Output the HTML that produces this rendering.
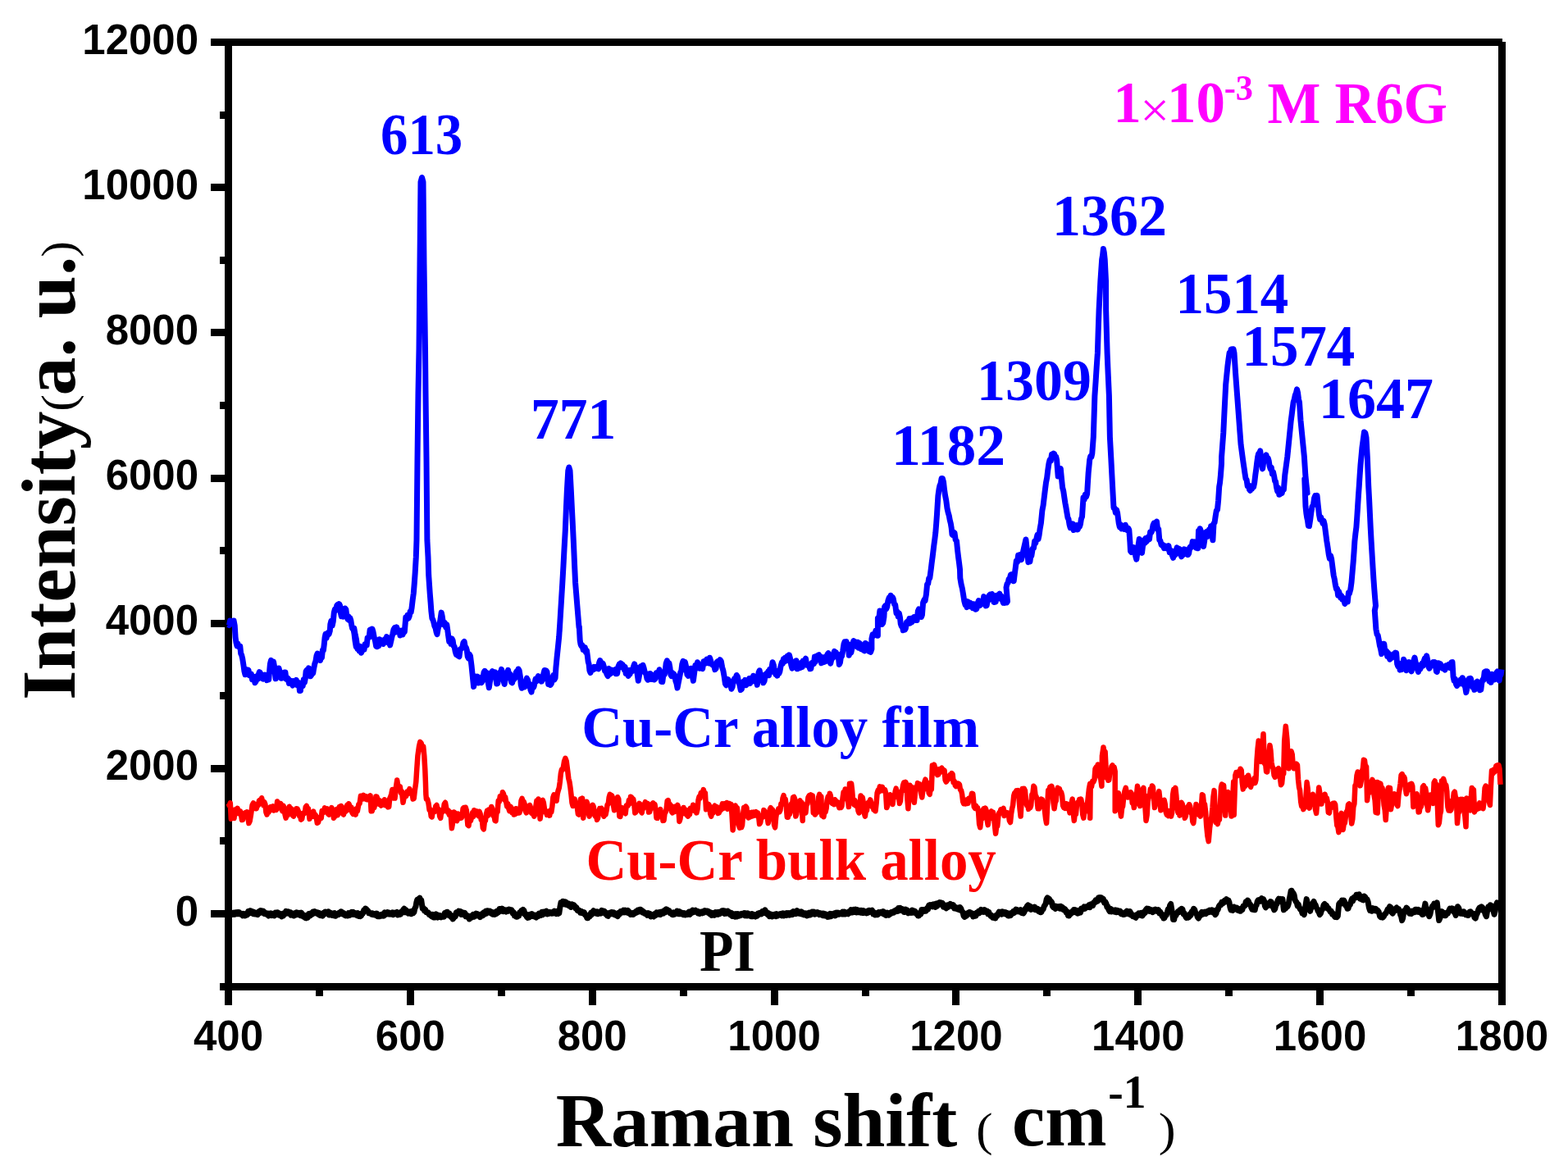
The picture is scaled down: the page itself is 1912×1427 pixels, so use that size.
<!DOCTYPE html>
<html><head><meta charset="utf-8"><style>
html,body{margin:0;padding:0;background:#fff;width:1912px;height:1427px;overflow:hidden}
svg{display:block}
text{font-kerning:normal;font-variant-ligatures:none}
.tk{font-family:"Liberation Sans",Arial,sans-serif;font-weight:bold;font-size:51px;fill:#000}
.sf{font-family:"Liberation Serif","Times New Roman",serif}
.ss{font-family:"Liberation Sans",Arial,sans-serif}
.b{font-weight:bold}
.n{font-weight:normal}
</style></head><body>
<svg width="1912" height="1427" viewBox="0 0 1912 1427"><rect x="0" y="0" width="1912" height="1427" fill="#fff"/><rect x="257" y="47" width="1575" height="9" fill="#000"/><rect x="274" y="47" width="9" height="1179" fill="#000"/><rect x="1827" y="51" width="9" height="1175" fill="#000"/><rect x="268" y="1199" width="1568" height="9" fill="#000"/><rect x="257" y="1110" width="17" height="9"/><rect x="268" y="1021" width="6" height="9"/><rect x="257" y="933" width="17" height="9"/><rect x="268" y="844" width="6" height="9"/><rect x="257" y="756" width="17" height="9"/><rect x="268" y="667" width="6" height="9"/><rect x="257" y="579" width="17" height="9"/><rect x="268" y="490" width="6" height="9"/><rect x="257" y="401" width="17" height="9"/><rect x="268" y="313" width="6" height="9"/><rect x="257" y="224" width="17" height="9"/><rect x="268" y="136" width="6" height="9"/><rect x="257" y="47" width="17" height="9"/><rect x="274" y="1208" width="9" height="18"/><rect x="385" y="1208" width="9" height="7"/><rect x="496" y="1208" width="9" height="18"/><rect x="607" y="1208" width="9" height="7"/><rect x="718" y="1208" width="9" height="18"/><rect x="829" y="1208" width="9" height="7"/><rect x="940" y="1208" width="9" height="18"/><rect x="1051" y="1208" width="9" height="7"/><rect x="1161" y="1208" width="9" height="18"/><rect x="1272" y="1208" width="9" height="7"/><rect x="1383" y="1208" width="9" height="18"/><rect x="1494" y="1208" width="9" height="7"/><rect x="1605" y="1208" width="9" height="18"/><rect x="1716" y="1208" width="9" height="7"/><rect x="1827" y="1208" width="9" height="18"/><polyline points="278.4,761.7 279.5,762.6 280.6,757.1 281.7,758.9 282.8,760.3 284.0,757.2 285.1,757.1 286.2,762.8 287.1,777.4 287.9,783.5 288.9,787.7 289.9,784.7 290.8,788.6 291.8,788.6 292.8,788.4 293.7,797.2 294.6,798.7 295.7,803.4 296.9,811.0 298.0,818.9 299.0,822.8 299.9,816.3 300.9,822.4 301.9,818.9 303.0,817.3 304.2,823.7 305.3,821.7 306.4,822.1 307.5,828.7 308.6,827.8 309.8,825.3 310.9,832.7 312.0,831.2 313.1,824.9 314.2,828.3 315.4,822.2 316.2,819.7 317.0,820.0 318.0,825.9 318.9,822.3 319.8,827.8 321.0,828.2 322.1,824.5 323.2,823.2 324.3,824.5 325.5,829.6 326.6,824.9 327.7,828.9 328.5,819.7 329.4,809.9 330.5,805.4 331.6,808.2 332.6,812.7 333.5,807.0 334.4,812.1 335.3,821.0 336.1,827.8 336.9,819.4 337.8,817.7 338.9,820.7 340.0,815.0 341.2,819.4 342.3,827.0 343.4,827.3 344.5,824.0 345.6,825.2 346.8,820.0 347.9,820.0 349.0,828.4 350.1,828.9 351.2,827.3 352.4,833.4 353.5,831.2 354.6,830.5 355.7,834.0 356.9,836.0 358.0,830.6 359.1,834.5 360.2,831.7 361.3,829.5 362.5,835.7 363.6,833.4 364.5,832.7 365.4,842.5 366.4,842.4 367.2,834.1 368.1,833.4 369.2,836.7 370.3,828.7 371.4,832.3 372.3,827.6 373.1,818.9 374.2,817.2 375.4,822.5 376.5,814.9 377.6,818.9 378.7,824.8 379.8,823.3 380.8,817.9 381.7,821.3 382.6,815.5 383.8,809.5 384.9,806.5 386.0,799.8 387.1,797.0 388.2,799.8 389.4,804.6 390.5,805.4 391.5,801.3 392.4,802.0 393.4,793.1 394.4,793.1 395.3,785.8 396.1,777.4 397.0,773.2 398.0,778.2 398.9,775.1 400.0,771.6 401.1,773.4 402.3,769.5 402.8,761.7 403.9,757.2 405.1,763.1 406.2,758.3 407.3,747.1 408.4,743.0 409.5,744.4 410.7,738.7 411.7,737.4 412.6,741.9 413.6,736.6 414.6,738.7 415.4,747.7 416.3,751.6 417.4,747.9 418.5,752.1 419.6,749.7 420.8,742.0 421.9,743.6 423.0,752.7 424.0,755.0 425.0,751.8 425.9,756.4 426.9,753.8 427.8,756.5 428.6,761.7 429.7,766.9 430.9,767.1 432.0,772.9 433.1,782.0 434.2,788.6 433.0,777.4 431.8,766.3 433.1,773.8 434.4,779.5 435.9,791.3 437.1,787.9 438.2,793.9 439.4,788.3 440.6,796.2 441.8,792.7 442.9,789.0 444.0,792.3 445.1,785.7 446.2,786.9 447.2,786.9 448.1,778.1 449.1,778.0 450.1,777.3 451.1,768.3 452.1,767.7 453.1,772.5 454.0,767.1 455.0,770.7 456.2,777.1 457.5,781.7 458.7,788.3 459.7,788.7 460.8,783.3 461.8,787.9 462.8,779.8 463.8,781.0 465.0,784.4 466.1,781.2 467.2,785.5 468.3,783.9 469.4,779.6 470.5,782.2 471.6,776.6 472.7,778.0 473.7,783.9 474.6,782.5 475.6,786.9 476.7,782.3 477.8,777.1 478.9,772.8 480.0,767.7 481.2,765.7 482.4,771.2 483.6,764.9 484.7,769.6 485.9,768.5 486.9,768.8 487.9,775.0 488.9,773.6 490.0,769.0 491.1,774.0 492.2,768.9 493.3,770.7 494.8,753.0 495.9,755.5 497.0,750.2 498.1,754.1 499.2,751.5 500.1,746.1 501.1,746.8 502.1,741.2 503.2,731.7 504.3,723.6 505.3,711.1 506.2,698.6 507.3,679.4 508.0,658.8 509.0,560.0 510.0,479.0 511.0,426.0 512.0,322.0 513.0,222.0 514.5,216.5 516.0,222.0 517.0,322.0 518.5,426.0 519.0,479.0 520.0,560.0 520.9,658.8 522.0,679.4 522.7,701.5 524.2,723.6 525.1,734.6 525.9,745.7 526.9,754.1 527.9,756.0 528.9,759.2 529.9,763.7 531.0,765.8 532.0,770.6 533.0,773.6 534.3,766.2 535.7,761.8 536.9,756.3 538.2,747.1 539.1,751.0 540.1,757.8 541.1,761.8 542.3,759.4 543.6,765.0 544.8,761.8 545.8,768.7 546.7,775.6 547.7,782.4 548.8,779.9 549.9,785.2 551.0,778.9 552.1,781.0 553.1,787.8 554.1,788.7 555.1,794.2 556.3,798.3 557.5,795.1 558.8,800.1 560.0,800.8 561.2,791.8 562.4,791.3 563.7,790.2 564.9,783.9 566.1,782.4 567.2,788.8 568.3,789.8 569.3,793.0 570.3,801.0 571.3,803.0 572.4,798.0 573.5,800.1 575.0,811.9 576.3,824.8 577.6,837.6 578.9,829.9 580.1,825.1 581.2,830.1 582.3,825.1 583.4,833.0 584.5,831.0 585.7,828.8 587.0,832.6 588.2,831.0 586.7,831.1 587.8,825.7 588.9,827.0 590.0,820.3 591.1,818.3 592.3,822.4 593.4,820.3 594.3,826.0 595.3,832.9 596.3,838.7 597.3,832.2 598.2,827.0 599.2,820.3 600.3,818.6 601.5,821.5 602.6,820.3 603.6,819.8 604.7,826.9 605.7,834.0 606.8,833.6 608.0,824.3 609.3,820.3 610.4,822.7 611.5,816.4 612.6,820.3 613.9,829.6 615.1,834.5 616.2,828.7 617.4,826.9 618.5,820.3 619.6,817.3 620.7,824.4 621.8,821.9 622.7,824.3 623.5,832.0 624.6,832.9 625.7,827.6 626.8,828.6 628.0,827.1 629.1,820.5 630.2,818.6 631.2,821.1 632.1,816.0 633.1,817.7 634.4,825.3 635.2,835.3 636.3,839.3 637.4,835.1 638.6,837.0 639.8,837.8 641.1,831.1 642.3,827.2 643.6,829.5 644.7,836.5 645.8,834.2 646.9,841.2 648.0,844.1 649.2,836.7 650.3,838.7 651.1,837.4 651.9,833.6 653.1,828.1 654.2,830.9 655.3,826.9 656.4,824.6 657.5,829.4 658.6,826.1 659.5,825.9 660.3,831.1 661.6,828.9 662.8,821.9 663.9,817.5 664.9,823.6 666.0,817.9 667.0,819.4 667.8,827.9 668.7,834.5 669.9,831.3 671.2,835.3 672.4,833.7 673.7,826.9 674.8,823.6 675.9,829.1 677.1,826.9 677.9,814.4 679.1,801.8 680.4,789.3 681.7,776.7 682.5,764.2 682.2,770.0 683.4,750.3 684.6,730.7 685.8,711.0 687.0,689.7 688.1,668.3 689.3,647.0 690.3,622.5 691.4,598.0 692.8,574.0 693.8,570.0 695.0,574.0 696.3,598.0 697.5,622.5 698.7,647.0 699.7,668.3 700.6,689.7 701.6,711.0 702.7,724.5 703.8,738.0 704.9,751.5 706.0,765.0 706.3,764.2 707.2,780.9 708.0,785.6 708.8,787.6 710.0,787.0 711.1,792.4 712.2,791.8 713.3,789.7 714.4,795.3 715.5,793.5 716.4,800.2 717.2,806.9 718.1,810.0 718.9,817.7 720.0,820.6 721.1,815.4 722.2,816.1 723.3,816.8 724.3,813.3 725.4,815.7 726.4,813.6 727.7,813.0 728.9,815.2 729.8,815.8 730.6,808.5 731.7,805.5 732.8,811.1 734.0,810.2 735.2,809.3 736.5,813.6 737.6,818.4 738.7,817.1 739.8,821.9 741.1,824.5 742.3,822.8 741.3,817.7 742.5,815.5 743.8,822.2 745.0,820.2 746.3,817.2 747.5,820.3 748.8,817.7 750.0,816.8 751.3,821.8 752.6,821.5 753.8,813.4 755.1,810.2 756.1,813.9 757.1,808.9 758.1,813.1 759.1,810.5 760.1,812.7 761.1,816.7 762.1,813.3 763.1,821.3 764.1,817.4 765.1,821.5 766.1,824.4 767.1,817.5 768.1,822.4 769.1,817.2 770.1,819.0 771.4,818.4 772.6,812.7 773.7,809.9 774.7,815.9 775.8,813.9 777.0,820.9 778.3,830.3 779.3,825.0 780.4,818.1 781.4,812.7 782.7,816.2 783.9,811.2 785.2,815.2 786.4,820.4 787.7,821.8 789.0,827.7 790.0,829.1 791.0,822.1 792.0,828.6 793.0,821.5 794.0,822.7 795.2,828.5 796.5,823.5 797.7,829.0 799.0,828.0 800.3,820.6 801.5,820.2 802.8,821.8 804.0,816.7 805.3,820.2 806.5,831.5 807.8,831.6 809.0,822.0 810.3,822.7 811.2,817.9 812.2,808.9 813.4,805.8 814.7,812.2 815.9,808.9 816.9,814.1 817.8,822.7 818.8,824.5 819.8,820.4 820.8,824.7 821.8,822.1 822.8,824.0 823.9,830.7 824.9,833.4 826.0,839.0 827.2,832.9 828.5,826.3 829.7,820.2 830.8,817.9 831.8,810.0 832.9,806.4 834.1,808.3 835.4,807.7 836.7,813.4 837.9,822.7 839.2,824.3 840.4,822.7 841.7,815.4 842.9,815.2 844.2,824.2 845.4,830.3 846.7,820.4 847.9,811.4 849.2,814.9 850.5,807.8 851.7,810.2 853.0,815.3 854.2,812.2 855.5,815.2 856.7,815.6 858.0,806.7 859.2,806.4 860.5,809.2 861.8,804.1 863.0,805.1 864.3,808.9 865.5,802.2 866.8,806.4 868.0,810.3 869.3,811.4 870.5,810.6 871.8,816.7 873.1,815.2 874.3,807.3 875.6,806.4 876.8,808.3 878.1,804.7 879.3,806.4 880.6,813.7 881.8,817.7 883.1,824.8 884.4,834.0 885.6,835.7 886.9,828.4 888.1,829.0 889.4,834.7 890.6,834.5 891.9,840.3 893.1,837.7 894.4,830.2 895.6,827.7 896.9,828.3 898.2,823.5 899.4,825.2 900.7,832.1 901.9,835.2 903.2,841.5 904.4,840.4 905.7,832.8 906.7,831.1 907.7,835.9 908.7,829.4 909.7,835.8 910.7,832.8 911.7,829.4 912.7,833.8 913.7,827.5 914.7,833.5 915.7,829.0 916.7,826.9 917.7,829.5 918.7,824.2 919.7,830.8 920.8,826.5 922.0,828.2 923.3,835.3 924.2,828.9 925.1,820.2 926.2,817.8 927.2,823.6 928.3,822.7 929.5,825.8 930.8,832.8 932.1,830.5 933.3,822.8 934.6,821.5 935.6,823.3 936.6,819.1 937.6,823.8 938.6,816.6 939.6,820.2 940.8,815.4 942.1,807.7 943.3,811.1 944.6,818.9 945.9,822.7 946.9,818.4 947.9,824.1 948.9,818.5 949.9,821.5 950.9,819.0 952.1,812.2 953.4,807.7 954.4,809.4 955.4,803.9 956.4,807.1 957.4,802.4 958.4,803.9 959.4,805.7 960.4,800.0 961.4,804.7 962.4,798.9 963.4,802.6 964.7,810.8 965.9,815.2 967.2,809.4 968.5,811.8 969.7,806.4 971.0,805.8 972.2,815.8 973.5,815.2 974.7,810.8 976.0,814.4 977.2,810.2 976.3,813.0 977.3,808.2 978.3,813.6 979.3,806.1 980.3,810.2 981.3,805.4 982.5,803.2 983.8,811.3 985.0,810.5 986.3,810.3 987.6,815.7 988.8,815.5 990.1,808.5 991.3,807.9 992.4,809.6 993.4,801.1 994.5,807.1 995.5,800.2 996.5,802.4 997.6,799.2 998.6,798.7 999.6,803.9 1000.6,800.5 1001.6,808.8 1002.6,806.7 1003.6,802.5 1004.6,807.6 1005.6,801.6 1006.6,806.8 1007.6,804.2 1008.9,798.0 1010.1,796.7 1011.4,805.3 1012.7,809.2 1013.9,804.2 1015.2,802.9 1016.4,797.9 1017.4,794.4 1018.4,799.9 1019.4,795.7 1020.4,800.7 1021.4,797.9 1022.4,801.9 1023.3,810.5 1024.4,808.3 1025.4,801.6 1026.5,800.4 1027.7,794.1 1029.0,785.4 1030.0,782.8 1031.0,787.1 1032.0,782.5 1033.0,789.2 1034.0,785.4 1035.3,799.2 1036.5,793.9 1037.8,796.0 1039.0,790.4 1040.0,784.4 1040.9,781.6 1041.9,785.7 1043.0,782.7 1044.0,787.9 1045.0,788.9 1046.0,783.2 1047.1,790.1 1048.1,784.4 1049.1,785.4 1050.3,791.7 1051.6,788.1 1052.8,792.9 1054.1,793.7 1055.3,784.5 1056.6,785.4 1057.8,791.8 1059.1,794.1 1060.4,790.2 1061.6,795.5 1062.9,791.6 1062.9,779.1 1064.1,773.7 1065.4,775.3 1066.6,774.1 1067.9,769.0 1069.1,768.9 1070.4,775.3 1070.4,754.0 1071.7,754.9 1072.9,745.0 1074.2,745.2 1075.4,761.5 1076.7,759.8 1077.9,752.7 1078.6,740.2 1079.6,738.7 1080.6,742.8 1081.7,740.2 1082.9,732.6 1084.2,728.9 1085.2,732.3 1086.2,726.3 1087.2,732.4 1088.2,728.2 1089.2,730.1 1090.5,736.9 1091.7,737.7 1093.0,747.7 1094.1,746.0 1095.2,751.9 1096.3,747.8 1097.4,752.7 1098.3,761.0 1099.3,764.0 1100.3,763.0 1101.3,768.8 1102.3,763.9 1103.3,768.2 1104.3,766.5 1105.5,758.9 1106.8,757.7 1107.8,760.4 1108.9,754.6 1109.9,760.1 1111.0,754.4 1112.0,758.8 1113.1,756.5 1114.3,752.7 1115.6,752.3 1116.8,756.6 1118.1,756.5 1119.4,745.2 1120.4,743.0 1121.4,750.5 1122.4,745.5 1123.4,752.5 1124.4,750.2 1125.6,735.1 1126.9,731.7 1128.1,732.6 1129.4,725.1 1130.6,712.6 1131.7,712.0 1132.7,705.3 1133.8,705.0 1135.2,694.5 1136.1,687.0 1137.1,679.5 1138.0,672.0 1138.9,664.6 1139.9,657.1 1140.8,649.7 1141.7,638.5 1142.5,627.3 1143.9,604.8 1145.0,596.8 1146.0,592.0 1147.0,589.9 1148.1,583.5 1149.3,583.4 1150.5,588.0 1151.5,597.1 1152.5,604.0 1153.8,610.7 1155.0,620.0 1156.1,625.0 1157.2,628.7 1158.2,634.1 1159.3,638.5 1160.2,644.0 1161.0,652.0 1162.0,652.8 1163.0,649.2 1164.0,650.0 1165.2,658.4 1166.5,660.0 1167.7,672.0 1168.6,679.5 1169.6,687.0 1170.5,694.5 1170.8,705.0 1172.1,712.6 1173.3,717.5 1174.6,725.1 1175.8,733.1 1177.1,737.7 1178.1,734.1 1179.1,740.6 1180.1,733.6 1181.1,739.5 1182.1,736.4 1183.2,735.4 1184.2,740.0 1185.3,736.5 1186.3,741.6 1187.3,736.7 1188.4,740.2 1189.6,743.2 1190.9,742.7 1192.2,735.8 1193.4,732.6 1194.7,738.5 1195.9,737.7 1197.2,733.0 1198.4,734.4 1199.7,727.6 1200.9,730.0 1202.2,738.9 1203.2,738.5 1204.2,732.0 1205.2,732.3 1206.2,726.1 1207.2,725.1 1208.5,729.8 1209.7,724.5 1211.0,730.1 1212.0,734.5 1213.1,730.6 1214.1,733.9 1213.1,732.0 1214.2,734.0 1215.4,726.3 1216.6,730.2 1217.7,725.8 1218.9,724.1 1220.0,730.1 1221.2,727.1 1222.3,732.0 1223.4,735.3 1224.4,729.9 1225.4,735.4 1226.4,730.5 1227.5,735.0 1228.5,733.5 1227.0,716.5 1228.0,712.2 1229.1,711.0 1230.2,706.1 1231.3,705.6 1232.4,701.1 1233.3,700.6 1234.3,707.8 1235.2,703.0 1236.2,708.8 1237.2,700.6 1238.3,692.4 1239.3,684.2 1240.4,685.7 1241.6,677.4 1242.8,679.7 1243.9,676.5 1245.5,682.6 1246.5,677.7 1247.6,672.8 1248.7,667.8 1249.8,662.9 1250.9,658.0 1251.9,667.2 1252.9,676.5 1253.9,685.7 1254.9,680.1 1255.9,685.0 1256.8,678.4 1257.8,678.0 1259.3,668.8 1260.5,668.4 1261.6,660.4 1262.8,662.4 1264.0,656.4 1265.0,652.2 1266.0,657.6 1267.0,653.3 1268.2,644.6 1269.4,637.9 1270.9,622.5 1272.1,616.4 1273.2,607.1 1274.4,597.3 1275.5,588.6 1276.7,582.5 1277.8,573.2 1279.0,565.1 1280.1,560.8 1281.3,562.2 1282.5,554.4 1283.6,556.6 1284.8,553.1 1285.7,553.7 1286.7,558.4 1287.7,557.1 1288.6,560.8 1290.2,580.9 1291.2,579.4 1292.2,572.1 1293.3,571.6 1294.4,583.2 1295.6,594.8 1296.7,598.8 1297.9,607.1 1298.9,613.6 1299.9,619.0 1301.0,625.6 1302.0,631.5 1303.0,633.3 1304.0,639.5 1305.1,643.6 1306.1,638.7 1307.1,643.5 1308.2,638.8 1309.2,646.5 1310.2,644.1 1311.2,641.6 1312.3,645.8 1313.3,640.6 1314.3,645.9 1315.3,641.0 1316.4,642.5 1317.4,639.4 1318.4,633.0 1319.5,630.2 1321.0,607.1 1322.2,609.3 1323.3,603.2 1324.5,606.1 1325.6,602.5 1327.2,576.3 1328.7,560.8 1329.7,556.5 1330.8,557.5 1331.8,553.1 1333.3,533.1 1334.9,482.7 1336.1,465.2 1337.2,447.7 1338.4,430.2 1339.2,403.9 1340.1,377.6 1341.0,360.1 1341.9,342.6 1342.8,329.5 1343.7,316.3 1344.6,311.1 1345.4,303.5 1346.3,308.0 1347.2,316.3 1348.5,342.6 1348.6,377.6 1350.1,430.2 1351.2,456.4 1352.4,482.7 1353.4,533.1 1354.9,560.8 1356.5,591.7 1358.0,619.4 1359.2,619.7 1360.3,625.0 1361.5,621.7 1362.6,625.6 1364.2,637.9 1365.3,642.6 1366.5,639.7 1367.6,644.9 1368.8,644.1 1370.0,641.8 1371.1,645.4 1372.3,640.2 1373.5,644.1 1374.6,646.7 1375.7,644.1 1376.8,646.3 1377.9,660.9 1378.5,672.1 1379.5,673.5 1380.5,668.2 1381.4,671.7 1382.4,667.6 1383.5,671.3 1384.7,678.2 1385.8,682.2 1386.9,674.0 1388.0,665.8 1389.2,657.5 1390.3,662.5 1391.4,669.8 1392.5,674.4 1393.6,665.4 1394.8,658.7 1395.9,662.5 1397.0,656.6 1398.1,660.6 1399.2,658.7 1400.4,654.5 1401.5,657.7 1402.6,649.0 1403.7,649.7 1404.8,647.4 1406.0,640.7 1407.1,638.1 1408.2,641.6 1409.3,637.4 1410.5,636.1 1411.6,645.5 1412.7,645.2 1413.8,658.7 1414.9,659.7 1416.1,664.4 1417.2,665.4 1418.3,664.7 1419.4,668.6 1420.5,667.6 1421.7,666.3 1422.8,669.0 1423.9,667.6 1425.0,665.7 1426.2,673.6 1427.3,671.0 1428.4,672.6 1429.5,677.7 1430.6,680.3 1431.8,672.4 1432.9,677.0 1434.0,672.1 1435.1,667.8 1436.2,674.8 1437.4,669.1 1438.5,669.9 1439.6,676.4 1440.7,678.9 1441.9,673.0 1443.0,676.7 1444.1,669.9 1445.2,670.1 1446.3,675.3 1447.5,671.3 1448.6,676.6 1449.7,674.8 1450.8,667.6 1451.9,666.5 1453.1,667.3 1454.2,660.6 1455.3,666.1 1456.4,660.9 1457.5,661.2 1458.7,668.1 1459.8,663.5 1460.9,668.8 1461.5,647.5 1462.4,651.0 1463.3,644.7 1464.3,647.5 1465.4,654.2 1466.5,660.0 1467.6,666.5 1468.8,658.9 1469.9,649.7 1471.0,648.6 1472.1,654.6 1473.2,651.9 1474.4,646.1 1475.5,647.2 1476.6,641.9 1477.7,649.7 1478.9,658.7 1480.0,638.5 1481.1,637.2 1482.2,629.5 1483.3,622.7 1484.5,621.7 1485.6,610.5 1486.7,593.6 1487.5,589.0 1488.4,580.2 1489.5,565.6 1489.6,557.2 1490.7,542.4 1491.8,527.7 1493.2,498.3 1494.7,468.9 1495.8,457.8 1496.9,446.8 1498.0,438.1 1499.1,430.6 1500.1,432.2 1501.1,426.2 1502.1,425.9 1503.1,430.0 1504.0,425.7 1505.0,430.6 1506.5,454.1 1507.6,468.9 1508.7,483.6 1509.8,498.3 1510.9,513.0 1512.0,527.7 1513.1,542.4 1514.1,549.8 1515.1,557.2 1516.1,564.5 1517.0,570.6 1518.0,577.6 1519.0,583.7 1520.1,585.3 1521.2,592.8 1522.3,591.4 1523.4,596.9 1524.4,598.4 1525.5,593.5 1526.5,596.5 1527.5,592.2 1528.6,594.0 1529.7,588.6 1530.8,579.2 1531.8,571.9 1532.7,564.5 1533.7,557.2 1534.7,553.2 1535.7,553.7 1536.7,549.8 1537.6,557.2 1538.6,564.5 1539.6,571.9 1540.7,563.8 1541.8,557.2 1542.9,559.2 1544.0,554.9 1545.1,561.1 1546.2,558.6 1547.2,562.2 1548.2,568.7 1549.2,571.9 1550.3,570.2 1551.4,578.1 1552.5,575.7 1553.6,580.7 1554.6,586.7 1555.5,587.2 1556.5,594.0 1557.6,599.1 1558.7,595.0 1559.8,603.3 1560.9,602.8 1562.0,599.6 1563.1,601.5 1564.3,596.9 1565.4,596.9 1566.8,579.2 1567.8,571.9 1568.8,564.5 1569.8,557.2 1570.9,546.1 1572.0,535.1 1573.1,524.1 1574.2,513.0 1575.2,505.7 1576.1,498.3 1577.1,490.9 1578.2,487.4 1579.3,481.9 1580.4,479.5 1581.5,474.8 1582.5,478.8 1583.5,486.7 1584.5,490.9 1586.0,513.0 1587.1,524.1 1588.2,535.1 1589.3,546.1 1590.4,557.2 1591.8,579.2 1592.9,590.3 1594.1,601.3 1593.0,596.2 1591.9,589.0 1590.8,584.1 1592.0,617.7 1592.9,626.1 1593.7,631.2 1594.5,634.7 1595.4,641.3 1596.5,641.5 1597.6,634.5 1598.8,625.2 1600.1,617.7 1601.4,616.1 1602.6,607.6 1603.7,604.7 1604.9,608.1 1606.0,604.3 1607.2,616.0 1608.5,627.8 1609.6,633.3 1610.7,630.9 1611.9,634.5 1613.0,638.4 1614.1,635.4 1615.2,639.6 1616.5,649.7 1617.8,659.8 1619.0,667.3 1620.3,676.6 1621.4,681.5 1622.5,677.6 1623.6,681.6 1624.9,691.7 1626.2,701.8 1627.3,706.5 1628.4,713.6 1629.5,718.6 1630.6,718.1 1631.6,726.0 1632.7,721.5 1633.7,725.4 1634.7,729.1 1635.7,726.6 1636.8,731.2 1637.8,729.1 1638.8,732.1 1639.9,736.5 1641.0,730.0 1642.1,733.8 1643.3,734.0 1644.4,723.1 1645.5,723.7 1646.8,718.9 1648.0,710.2 1649.1,697.6 1650.2,685.0 1651.1,672.4 1651.9,659.8 1652.9,650.6 1653.9,643.0 1654.8,630.3 1655.6,617.7 1656.4,605.1 1657.3,592.5 1658.1,579.9 1659.0,567.3 1660.0,556.3 1661.0,545.4 1662.2,536.7 1663.5,526.9 1664.8,527.9 1666.0,533.6 1667.4,558.9 1668.7,592.5 1669.6,609.3 1670.4,626.1 1671.2,643.0 1672.1,659.8 1673.1,676.6 1674.1,693.4 1674.9,706.0 1675.8,718.6 1676.6,728.7 1677.5,738.8 1676.3,744.8 1677.1,756.1 1677.9,767.3 1679.1,773.9 1680.2,774.9 1681.3,780.7 1682.4,787.2 1683.5,791.0 1684.7,797.5 1685.8,792.4 1686.9,785.2 1687.8,785.3 1688.8,793.9 1689.7,795.3 1690.7,794.3 1691.7,800.3 1692.7,796.2 1693.6,800.9 1694.8,804.2 1695.9,798.9 1697.0,802.4 1698.1,800.9 1699.2,797.8 1700.4,801.0 1701.5,796.1 1702.6,796.4 1703.7,809.9 1704.8,812.9 1706.0,809.2 1707.1,817.1 1708.2,811.3 1709.3,816.6 1710.5,813.5 1711.6,804.3 1712.7,806.4 1713.8,814.7 1714.9,817.7 1716.1,812.7 1717.2,813.1 1718.3,807.6 1719.2,809.2 1720.2,817.5 1721.1,818.9 1722.1,813.8 1723.1,811.1 1724.1,805.1 1725.0,802.0 1726.2,808.0 1727.3,810.4 1728.4,816.6 1729.5,819.5 1730.6,811.5 1731.8,816.1 1732.9,813.2 1734.0,809.1 1735.1,812.2 1736.2,806.5 1737.4,803.0 1738.5,803.6 1739.6,799.8 1740.7,804.8 1741.9,813.2 1743.0,815.2 1744.1,810.1 1745.2,811.0 1746.3,811.5 1747.5,807.5 1748.6,811.8 1749.7,807.6 1750.5,811.0 1751.4,818.9 1752.3,819.4 1753.2,808.8 1754.2,808.8 1755.3,813.8 1756.4,809.7 1757.5,812.1 1758.7,815.0 1759.8,813.1 1760.9,815.5 1762.0,817.1 1763.2,811.7 1764.3,814.3 1765.4,812.1 1766.5,810.5 1767.6,814.4 1768.8,813.6 1769.9,807.8 1771.0,807.6 1772.1,825.6 1773.2,830.5 1774.4,828.1 1775.5,834.5 1776.6,836.4 1777.7,831.5 1778.9,834.2 1780.0,832.3 1781.1,829.1 1782.2,833.6 1783.3,826.7 1784.5,828.9 1785.6,835.8 1786.7,837.9 1787.8,844.6 1788.9,839.6 1790.1,832.9 1791.2,827.8 1792.3,832.6 1793.4,827.4 1794.5,832.3 1795.7,837.9 1796.8,834.8 1797.9,841.3 1799.0,840.6 1800.2,832.6 1801.3,831.2 1802.4,835.4 1803.5,835.0 1804.6,841.7 1805.8,841.3 1806.9,832.3 1808.0,828.9 1809.1,829.3 1810.2,819.7 1811.4,818.9 1812.5,823.8 1813.6,818.8 1814.7,824.5 1815.9,830.6 1817.0,826.8 1818.1,832.3 1819.2,822.2 1820.3,826.8 1821.5,824.0 1822.6,828.9 1823.7,827.2 1824.8,820.5 1825.9,818.9 1827.1,827.2 1828.2,830.1 1829.1,823.0 1830.1,822.9 1831.0,816.6" fill="none" stroke="#0000ff" stroke-width="7" stroke-linejoin="round" stroke-linecap="butt"/><polyline points="278.7,979.9 279.7,982.5 280.8,979.3 281.8,998.8 283.1,995.0 284.5,997.7 285.5,998.0 286.6,987.6 287.6,988.3 288.7,992.2 289.7,985.9 290.8,990.4 291.8,992.4 292.9,989.3 293.9,992.5 295.0,1000.0 296.0,999.8 297.3,992.6 298.7,991.4 300.0,994.6 301.3,990.4 302.3,995.7 303.4,1004.0 304.7,1001.3 306.0,993.5 307.6,982.0 308.9,979.5 310.2,980.9 311.5,986.3 312.8,986.2 313.9,980.7 314.9,982.1 316.0,976.5 317.0,975.7 318.1,978.3 319.1,973.3 320.2,977.8 321.3,982.2 322.3,978.2 323.4,980.9 324.4,990.6 325.5,993.5 326.5,989.1 327.6,990.8 328.6,985.1 329.7,984.3 330.7,987.7 331.8,987.2 332.8,983.3 333.9,988.5 334.9,984.6 336.0,986.2 337.0,987.7 338.1,977.6 339.1,978.8 340.2,981.9 341.2,980.9 342.3,980.2 343.3,987.2 344.4,989.2 345.4,982.7 346.5,985.1 347.5,993.2 348.6,997.7 349.6,990.7 350.7,994.6 351.7,988.3 352.8,983.7 353.8,990.6 354.9,986.2 355.9,987.3 357.0,994.7 358.0,995.6 359.1,990.8 360.1,990.9 361.2,986.2 362.5,986.4 363.8,989.3 364.9,994.9 365.9,993.4 367.0,999.8 368.2,998.6 369.4,991.8 370.7,992.5 371.7,991.5 372.8,984.1 373.8,983.0 374.9,988.1 375.9,986.2 377.5,998.8 378.7,993.8 379.9,996.0 381.2,991.4 382.2,989.6 383.3,996.0 384.3,993.5 385.5,995.3 386.8,1003.8 388.0,1003.0 389.3,998.6 390.6,996.7 391.7,997.9 392.7,988.9 393.8,990.4 394.8,990.8 395.9,985.4 396.9,990.2 398.0,987.2 399.0,986.5 400.1,992.6 401.1,993.5 402.2,989.4 403.2,989.6 404.3,985.1 405.6,987.5 406.9,997.7 408.2,995.8 409.5,990.4 410.6,987.1 411.7,994.2 412.7,990.4 413.8,984.1 414.8,987.6 415.9,983.0 416.9,984.3 418.0,992.7 419.0,993.5 420.1,987.7 421.1,990.1 422.2,986.2 423.2,982.1 424.3,988.0 425.3,980.2 426.4,983.0 427.4,987.1 428.5,984.8 429.5,991.4 430.6,992.9 431.6,989.3 432.7,991.4 433.7,993.6 434.8,986.3 435.8,989.3 437.4,980.9 438.6,979.9 439.9,970.8 441.1,971.5 442.1,974.4 443.2,969.9 444.2,974.3 445.3,972.5 446.3,971.5 447.4,975.3 448.4,974.6 449.5,971.6 450.5,974.9 451.6,970.4 452.6,989.3 453.7,989.3 455.0,983.2 456.3,985.1 457.4,979.9 458.4,971.5 459.5,971.7 460.5,974.6 461.6,980.7 462.6,976.1 463.7,980.9 464.7,982.5 465.8,977.5 466.8,981.4 467.9,977.8 468.9,975.3 470.0,982.3 471.0,980.9 472.1,979.6 473.1,984.4 474.2,984.1 475.2,974.0 476.3,971.5 477.3,968.5 478.4,963.0 479.4,964.0 480.5,973.6 481.5,973.6 482.8,961.0 484.2,951.5 485.5,960.0 486.8,962.0 487.8,959.2 488.9,967.1 489.9,965.1 491.5,978.8 492.8,971.7 494.1,971.5 495.2,971.2 496.3,965.5 497.3,966.2 498.4,967.5 499.4,962.1 500.5,967.4 501.5,965.1 502.6,967.4 503.6,974.6 504.7,973.9 505.7,965.1 507.3,953.6 508.3,937.8 509.4,922.0 511.0,910.5 512.3,904.8 513.6,906.3 514.9,912.3 516.2,910.5 517.3,922.0 518.3,938.9 518.9,953.6 519.4,969.3 519.9,974.6 521.2,974.8 522.5,979.9 523.6,987.7 524.6,987.1 525.7,995.6 526.7,996.4 527.8,990.1 528.8,990.4 530.1,989.9 531.3,983.2 532.5,982.0 533.7,988.8 535.0,987.1 536.2,995.6 537.2,997.8 538.3,989.2 539.3,990.4 540.6,989.1 541.8,980.5 543.0,978.8 544.3,986.0 545.7,990.4 546.7,988.4 547.8,993.8 548.8,990.4 549.9,996.7 550.9,1010.3 552.2,1002.6 553.5,990.4 554.9,991.7 556.2,999.8 557.2,1001.1 558.3,992.5 559.3,993.5 560.4,998.0 561.4,993.0 562.5,997.7 563.5,995.7 564.6,986.1 565.6,985.1 566.7,988.2 567.7,984.7 568.8,988.3 570.4,1006.1 571.5,1007.1 572.7,998.3 573.9,1001.1 575.1,996.7 576.1,991.0 577.2,996.0 578.2,988.3 579.3,989.3 580.3,992.0 581.4,989.4 582.4,993.5 583.5,995.1 584.5,989.7 585.6,992.5 586.7,999.7 587.7,998.4 588.8,1009.7 589.8,1011.4 590.9,1001.7 591.9,1001.0 593.0,992.5 594.0,988.9 595.1,994.7 596.1,987.4 597.2,990.4 598.2,991.1 599.3,984.0 600.3,986.2 601.4,994.7 602.4,992.9 603.5,1000.9 604.5,1001.3 605.6,990.0 606.6,990.4 607.7,976.7 608.7,978.0 609.8,971.2 610.8,972.5 611.9,972.8 612.9,966.2 614.0,968.3 615.0,975.3 616.1,972.1 617.1,977.8 618.2,983.7 619.2,980.1 620.3,986.2 621.3,989.1 622.4,983.8 623.4,985.1 624.5,991.3 625.5,987.9 626.6,993.5 627.1,991.4 628.2,993.1 629.2,986.2 630.3,987.2 631.3,991.6 632.4,986.7 633.4,991.4 634.5,987.0 635.5,976.7 636.6,973.8 637.6,978.7 638.7,977.8 639.7,980.7 640.8,989.3 641.8,991.4 642.9,985.2 643.9,985.1 645.0,986.9 646.0,982.0 647.1,985.1 648.1,991.8 649.2,992.5 650.2,991.5 651.3,995.7 652.3,993.5 653.4,983.3 654.4,976.7 655.5,977.0 656.5,974.6 657.6,985.1 658.6,998.8 659.7,989.8 660.7,976.7 661.8,976.0 662.8,978.8 663.9,986.3 664.9,990.4 666.0,989.6 667.0,993.9 668.1,989.7 669.1,992.5 670.2,994.7 671.3,988.2 672.3,990.4 673.4,983.3 674.4,972.5 675.5,969.3 676.5,973.6 677.6,976.3 678.6,976.7 679.7,968.1 680.7,964.1 681.8,960.8 682.8,953.6 683.9,943.1 684.9,938.6 686.0,938.9 687.0,935.1 688.1,928.4 689.4,924.8 690.7,928.4 692.3,941.0 693.3,949.5 694.4,953.6 695.4,960.2 696.5,969.3 697.5,979.1 698.6,983.0 699.6,977.3 700.7,974.6 701.7,981.5 702.8,983.0 703.8,984.4 704.9,992.8 705.9,993.5 707.0,980.2 708.0,974.6 709.1,977.6 710.1,973.6 711.2,997.7 712.2,989.7 713.3,990.0 714.3,980.9 715.4,977.9 716.5,980.9 717.5,990.5 718.6,995.6 719.6,990.5 720.7,991.5 721.7,985.1 722.8,981.8 723.8,984.1 724.9,993.7 725.9,995.6 727.0,992.4 728.0,999.9 729.1,997.7 730.1,989.8 731.2,986.2 732.2,990.2 733.3,985.7 734.3,987.2 735.4,992.9 736.4,995.6 737.5,990.4 738.5,993.6 739.6,988.3 740.6,981.4 741.7,980.7 742.7,972.5 743.8,968.8 744.8,974.8 745.9,970.1 746.9,972.5 748.0,982.2 749.0,988.3 750.1,979.4 751.1,974.6 752.2,978.5 753.2,972.3 754.3,974.6 755.3,995.6 756.4,996.0 757.4,984.9 758.5,985.1 759.5,990.1 760.6,987.4 761.7,991.4 762.7,992.2 763.8,982.5 764.8,982.0 765.9,982.4 766.9,976.1 768.0,980.2 769.0,971.8 770.1,972.5 771.1,975.6 772.2,974.6 773.2,980.5 774.3,991.4 775.3,990.5 776.4,983.6 777.4,984.1 778.5,985.5 779.5,979.9 780.6,980.9 781.6,989.6 782.7,991.4 783.7,984.4 784.8,985.7 785.8,980.9 786.9,978.2 787.9,982.9 789.0,980.9 790.0,980.2 791.1,990.6 792.1,990.4 793.2,985.3 794.2,986.0 795.3,980.9 796.3,979.3 797.4,984.9 798.4,980.9 799.5,987.3 800.5,997.7 801.6,997.8 802.6,989.6 803.7,989.3 805.3,987.2 806.3,994.8 807.4,993.4 808.4,1000.9 809.5,1000.7 810.5,992.3 811.6,990.4 812.6,986.9 813.7,976.7 814.7,976.1 815.8,982.2 816.8,980.9 817.9,982.3 818.9,989.9 820.0,991.4 821.0,986.9 822.1,990.2 823.1,983.7 824.2,984.1 825.2,987.7 826.3,981.9 827.3,985.1 828.4,1001.9 829.4,999.0 830.5,991.6 831.5,989.3 832.6,991.5 833.6,985.0 834.7,992.2 835.7,988.3 836.8,988.0 837.8,994.4 838.9,995.6 839.9,989.9 841.0,993.3 842.0,985.7 843.1,986.2 844.1,988.6 845.2,981.8 846.3,984.1 847.3,989.1 848.4,985.2 849.4,991.4 850.5,987.0 851.5,975.8 852.6,971.5 853.6,973.7 854.7,967.1 855.7,969.5 856.8,966.2 857.8,963.0 858.9,968.3 859.9,967.2 861.0,987.2 862.0,981.6 863.1,986.2 864.1,980.9 865.2,983.4 866.2,992.7 867.3,995.6 868.3,988.4 869.4,991.7 870.4,984.1 871.5,982.8 872.5,987.3 873.6,985.1 874.6,984.5 875.7,991.9 876.7,991.4 877.8,986.8 878.8,988.1 879.9,984.1 880.9,980.4 882.0,986.0 883.0,980.3 884.1,980.9 885.1,983.5 886.2,979.0 887.2,986.7 888.3,984.1 889.3,980.0 890.4,983.2 891.5,980.9 892.5,993.5 893.6,1012.4 894.6,1003.8 895.7,987.2 896.7,982.5 897.8,989.0 898.8,985.1 899.9,994.3 900.9,1006.1 902.0,1009.7 903.0,1004.3 904.1,1009.1 905.1,1006.1 906.2,991.8 907.2,985.1 908.3,988.3 909.3,983.5 910.4,985.1 911.4,995.6 912.5,997.4 913.5,991.3 914.6,996.5 915.6,994.6 916.7,990.9 917.7,995.4 918.8,990.6 919.8,991.4 920.9,994.4 921.9,990.1 923.0,992.9 924.0,991.4 925.1,996.0 926.1,1005.1 927.2,1003.3 928.2,997.4 929.3,995.6 930.3,996.3 931.4,988.1 932.4,989.3 933.5,994.0 934.5,991.4 935.6,996.2 936.7,1004.0 937.7,998.0 938.8,987.2 939.8,985.1 940.9,990.1 941.9,987.2 943.0,992.0 944.0,1005.8 945.1,1009.3 946.1,997.6 947.2,990.4 948.2,991.2 949.3,986.2 950.3,990.4 951.4,988.3 952.4,980.4 953.5,981.1 954.5,973.6 955.6,970.2 956.6,977.0 957.7,974.6 958.7,982.7 959.8,996.7 960.8,996.8 961.9,990.3 962.9,993.1 964.0,989.3 965.0,980.4 966.1,980.8 967.1,972.5 968.2,972.0 969.2,974.6 970.3,995.6 971.3,993.0 972.4,984.5 973.4,985.5 974.5,977.8 975.5,976.4 976.6,981.7 977.6,978.8 978.7,1000.9 979.2,980.9 980.3,981.4 981.3,989.4 982.4,991.4 983.4,982.0 984.5,980.3 985.5,972.5 986.6,970.5 987.6,974.5 988.7,969.4 989.7,974.5 990.8,970.4 991.8,991.4 992.9,988.9 993.9,993.5 995.0,988.0 996.0,991.4 997.1,983.2 998.1,972.5 999.2,968.9 1000.2,973.2 1001.3,971.5 1002.3,994.6 1003.4,991.9 1004.4,996.3 1005.5,988.3 1006.5,990.4 1007.6,985.9 1008.6,976.2 1009.7,971.5 1010.7,975.0 1011.8,967.7 1012.8,970.4 1013.9,978.6 1014.9,979.9 1016.0,977.5 1017.0,981.2 1018.1,975.3 1019.1,976.7 1020.2,980.3 1021.3,978.1 1022.3,982.0 1023.4,985.1 1024.4,980.3 1025.5,985.0 1026.5,983.0 1027.6,973.0 1028.6,966.2 1029.7,969.4 1030.7,962.5 1031.8,965.1 1032.8,974.9 1033.9,975.3 1034.9,984.1 1036.0,955.7 1037.0,959.3 1038.1,955.7 1039.1,964.1 1040.2,977.8 1041.2,981.1 1042.3,976.0 1043.3,982.6 1044.4,979.9 1045.4,981.4 1046.5,989.0 1047.5,991.4 1048.6,979.6 1049.6,970.4 1050.7,973.2 1051.7,972.5 1052.8,978.9 1053.8,991.6 1054.9,995.6 1055.9,987.8 1057.0,988.4 1058.0,979.9 1059.1,978.4 1060.1,981.9 1061.2,975.4 1062.2,978.8 1063.3,983.8 1064.3,980.6 1065.4,987.6 1066.5,985.7 1067.5,989.3 1068.6,979.9 1069.6,967.2 1070.7,963.8 1071.7,965.8 1072.8,959.4 1073.8,959.9 1074.9,964.3 1075.9,959.8 1077.0,964.2 1078.0,963.0 1079.1,963.2 1080.1,967.2 1081.2,985.1 1082.2,982.8 1083.3,975.2 1084.3,975.1 1085.4,969.3 1086.4,970.7 1087.5,978.3 1088.5,980.9 1089.6,971.9 1090.6,972.6 1091.7,965.1 1092.7,961.7 1093.8,969.0 1094.8,966.2 1095.9,969.9 1096.9,979.9 1098.0,976.9 1099.0,965.0 1100.1,964.8 1101.1,957.8 1102.2,954.5 1103.2,959.3 1104.3,953.9 1105.3,956.7 1106.4,974.7 1107.4,986.2 1108.5,970.3 1109.5,957.8 1110.6,960.6 1111.7,959.9 1112.7,964.9 1113.8,974.3 1114.8,978.8 1115.9,967.9 1116.9,959.9 1118.0,961.8 1119.0,955.1 1120.1,960.8 1121.1,956.1 1122.2,957.8 1123.2,967.7 1124.3,972.5 1125.3,964.2 1126.4,963.1 1127.4,953.6 1128.5,950.7 1129.5,955.9 1130.6,954.6 1131.6,959.1 1132.7,967.2 1133.7,968.9 1134.8,960.6 1135.8,963.0 1136.9,933.6 1137.9,937.3 1139.0,932.6 1140.0,935.7 1141.1,942.8 1142.1,940.8 1143.2,945.2 1144.2,944.7 1145.3,938.1 1146.3,942.0 1147.4,937.8 1148.4,936.8 1149.5,941.2 1150.5,938.9 1151.6,939.8 1152.6,951.3 1153.7,953.6 1155.3,951.5 1156.3,947.6 1157.4,949.6 1158.4,945.0 1159.5,948.5 1160.5,943.1 1161.6,944.2 1162.6,954.2 1163.7,952.8 1164.7,957.8 1165.8,959.1 1166.8,955.4 1167.9,958.5 1168.9,955.7 1170.0,957.1 1171.0,963.2 1172.1,964.1 1173.1,968.6 1174.2,977.8 1175.2,980.2 1176.3,977.3 1177.3,980.3 1178.4,975.5 1179.4,979.9 1180.5,979.8 1181.5,973.7 1182.6,974.6 1183.8,974.8 1185.0,967.7 1186.3,968.3 1187.8,984.1 1188.9,985.8 1189.9,982.5 1191.0,986.4 1192.0,985.1 1193.1,990.5 1194.1,1005.0 1195.2,1009.3 1196.3,999.4 1197.3,998.9 1198.4,988.3 1199.4,986.5 1200.5,989.5 1201.5,985.6 1202.6,988.3 1203.6,999.8 1204.7,1006.1 1205.7,998.4 1206.8,998.6 1207.8,991.4 1208.9,989.5 1209.9,996.8 1211.0,990.8 1212.0,995.6 1213.1,1008.2 1214.1,1016.7 1215.2,1007.9 1216.2,1007.6 1217.3,995.9 1218.3,991.4 1219.4,991.9 1220.4,987.2 1221.5,989.7 1222.5,987.2 1223.6,986.0 1224.6,994.9 1225.7,993.5 1226.7,990.7 1227.8,993.7 1228.8,991.4 1229.9,993.8 1230.9,1001.0 1232.0,1003.0 1233.0,993.1 1234.1,986.2 1235.1,982.3 1236.2,970.7 1237.2,967.2 1238.3,968.3 1239.3,964.3 1240.4,968.0 1241.5,964.1 1242.5,973.3 1243.6,986.9 1244.6,995.6 1245.7,976.8 1246.7,962.0 1247.8,964.9 1248.8,961.9 1249.9,964.1 1250.9,975.4 1252.0,982.0 1253.0,980.7 1254.1,986.8 1255.1,981.6 1256.2,985.1 1257.2,982.3 1258.3,968.9 1259.3,968.7 1260.4,958.8 1261.4,960.2 1262.5,969.7 1263.5,971.5 1264.6,975.3 1265.6,986.2 1266.7,986.3 1267.7,976.5 1268.8,980.7 1269.8,974.6 1270.9,975.1 1271.9,983.9 1273.0,982.2 1274.0,989.3 1275.1,998.9 1276.1,1004.0 1277.2,982.5 1278.2,964.1 1279.3,964.2 1280.3,959.8 1281.4,962.1 1282.4,958.8 1283.5,964.9 1284.5,979.1 1285.6,986.2 1286.7,978.5 1287.7,976.9 1288.8,964.5 1289.8,960.9 1290.9,963.5 1291.9,962.2 1293.0,966.4 1294.0,966.2 1295.1,970.3 1296.1,982.4 1297.2,985.1 1298.2,980.2 1299.3,985.9 1300.3,980.1 1301.4,980.9 1302.4,986.8 1303.5,985.7 1304.5,991.4 1305.6,987.9 1306.6,979.0 1307.7,974.6 1308.7,990.6 1309.8,1000.9 1310.8,991.8 1311.9,993.1 1312.9,982.9 1314.0,978.8 1315.0,980.4 1316.1,975.0 1317.1,978.8 1318.2,974.6 1319.2,979.9 1320.3,993.8 1321.3,997.7 1322.4,989.7 1323.4,990.0 1324.5,981.8 1325.5,983.0 1326.6,974.6 1327.9,962.7 1329.2,955.7 1329.2,997.7 1329.7,958.8 1331.0,959.5 1332.2,952.9 1333.4,953.6 1334.5,951.0 1335.5,937.8 1336.6,935.7 1337.6,938.8 1338.7,932.5 1339.7,936.8 1340.9,947.0 1342.2,950.0 1343.4,958.8 1343.9,922.0 1345.5,911.5 1346.5,917.6 1347.6,916.8 1349.2,948.3 1350.2,947.0 1351.3,951.8 1352.3,951.5 1353.4,941.9 1354.4,941.6 1355.5,934.7 1356.5,933.4 1357.6,940.4 1358.6,935.7 1359.7,941.0 1359.7,989.3 1360.7,986.1 1361.8,976.5 1362.8,974.7 1363.9,967.2 1364.9,974.9 1366.0,988.9 1367.0,995.6 1368.1,985.7 1369.1,983.5 1370.2,972.5 1371.5,964.8 1372.8,960.9 1374.1,968.9 1375.5,972.5 1376.5,968.5 1377.6,972.2 1378.6,966.2 1379.7,967.4 1380.7,979.2 1381.8,977.5 1382.8,985.1 1383.9,980.9 1384.9,970.4 1386.0,968.9 1387.0,958.8 1388.1,964.3 1389.1,976.3 1390.2,983.0 1391.2,975.8 1392.3,973.5 1393.3,963.2 1394.4,960.9 1395.4,978.0 1396.5,985.8 1397.5,1000.9 1398.6,994.2 1399.6,978.5 1400.7,970.4 1401.7,971.4 1402.8,962.6 1403.8,967.0 1404.9,958.5 1405.9,959.9 1407.0,974.8 1408.0,985.1 1409.1,979.9 1410.1,979.8 1411.2,970.3 1412.2,970.9 1413.3,965.1 1414.3,974.4 1415.4,988.3 1416.5,987.2 1417.5,980.7 1418.6,980.9 1419.6,975.7 1420.7,980.7 1421.7,990.4 1422.8,993.7 1423.8,988.8 1424.9,995.1 1425.9,993.5 1427.0,988.9 1428.0,995.6 1429.1,991.4 1430.1,969.3 1431.2,962.8 1432.2,966.9 1433.3,960.9 1434.3,970.0 1435.4,985.1 1436.4,991.0 1437.5,988.0 1438.5,994.6 1439.6,988.9 1440.6,978.8 1441.7,980.7 1442.7,991.4 1443.8,990.3 1444.8,997.7 1445.9,995.2 1446.9,987.2 1448.0,984.1 1449.0,985.2 1450.1,981.2 1451.1,983.0 1452.2,991.1 1453.2,990.2 1454.3,1002.0 1455.3,1004.0 1456.4,994.3 1457.4,992.4 1458.5,980.9 1459.5,983.1 1460.6,992.5 1461.7,993.5 1462.7,993.2 1463.8,995.6 1464.8,985.8 1465.9,969.3 1466.9,970.1 1468.0,980.9 1469.0,980.9 1470.1,989.8 1471.1,1006.1 1472.4,1019.3 1473.7,1026.1 1475.1,1009.9 1476.4,1000.9 1477.4,996.3 1478.5,985.1 1479.5,971.7 1480.6,964.1 1481.6,985.3 1482.7,1003.0 1483.7,999.6 1484.8,1005.1 1485.8,998.8 1486.9,999.8 1487.9,983.8 1489.0,959.9 1490.0,956.5 1491.1,960.8 1492.1,957.8 1493.2,975.0 1494.2,994.6 1495.3,983.2 1496.3,967.2 1497.4,966.2 1498.4,971.7 1499.5,969.3 1500.5,978.8 1501.6,995.6 1502.9,977.6 1504.2,953.6 1504.7,994.0 1506.3,945.7 1507.4,942.1 1508.4,946.6 1509.5,943.6 1510.5,941.0 1511.6,944.6 1512.6,937.7 1513.7,939.4 1514.7,954.1 1515.8,962.5 1516.8,956.8 1517.9,959.2 1518.9,952.0 1520.0,948.1 1521.0,949.8 1522.1,945.7 1523.1,950.0 1524.2,958.3 1525.2,959.9 1526.3,952.0 1527.3,956.0 1528.4,953.0 1529.4,949.4 1530.5,955.0 1531.5,950.9 1532.6,926.8 1533.6,913.4 1534.7,903.6 1535.7,913.4 1536.8,917.7 1537.8,928.9 1539.2,915.6 1540.5,895.2 1542.0,931.0 1543.1,930.8 1544.1,941.2 1545.2,941.5 1546.3,928.2 1547.3,922.1 1548.4,908.9 1549.4,915.0 1550.5,930.1 1551.5,935.2 1552.6,937.3 1553.6,945.6 1554.7,947.8 1555.7,942.3 1556.8,946.4 1557.8,938.2 1558.9,937.3 1559.9,945.2 1561.0,949.1 1562.0,957.2 1563.1,955.5 1564.1,945.2 1565.2,943.6 1566.2,903.6 1567.8,885.8 1569.4,901.5 1570.4,921.1 1571.5,937.3 1572.5,928.5 1573.6,926.1 1574.6,916.3 1575.7,920.2 1576.7,933.4 1577.8,937.3 1578.8,933.0 1579.9,936.5 1580.9,931.6 1582.0,933.1 1583.0,950.3 1584.1,960.4 1585.1,964.2 1586.2,977.9 1587.2,983.5 1588.3,980.2 1589.3,987.1 1590.4,980.5 1591.5,984.6 1592.5,971.2 1593.6,954.1 1594.6,961.5 1595.7,978.7 1596.7,985.6 1597.8,978.9 1598.8,978.7 1599.9,971.3 1600.9,968.8 1602.0,976.2 1603.0,978.9 1604.1,987.8 1605.1,991.9 1606.2,978.5 1607.2,972.4 1608.3,960.4 1609.3,967.1 1610.4,980.4 1611.4,980.5 1612.5,970.6 1613.5,970.9 1614.6,974.9 1615.6,968.8 1616.7,976.3 1617.7,973.0 1618.8,978.1 1619.8,990.9 1620.9,991.5 1621.9,982.3 1623.0,985.3 1624.0,981.4 1625.1,979.9 1626.1,982.8 1627.2,979.6 1628.2,981.4 1629.3,996.3 1630.3,1006.7 1631.4,1008.4 1632.4,1015.1 1633.5,1010.5 1634.5,996.4 1635.6,991.9 1636.7,1003.4 1637.7,1011.9 1638.8,1004.3 1639.8,1004.1 1640.9,996.1 1641.9,989.9 1643.0,989.8 1644.0,981.4 1645.1,980.4 1646.1,990.7 1647.2,993.4 1648.2,1004.5 1649.3,999.1 1650.3,984.5 1651.4,980.4 1652.4,958.3 1653.5,956.5 1654.5,945.7 1655.6,941.5 1656.6,950.4 1657.7,949.5 1658.7,958.3 1659.8,952.4 1660.8,941.0 1661.9,937.2 1662.9,926.8 1664.0,927.4 1665.0,935.6 1666.1,935.2 1667.1,976.2 1668.2,966.9 1669.2,967.4 1670.3,957.6 1671.3,954.1 1672.4,956.7 1673.4,950.9 1674.5,954.1 1675.5,969.8 1676.6,975.8 1677.6,990.9 1679.2,954.1 1679.7,991.5 1681.3,954.7 1682.4,958.3 1683.4,955.7 1684.5,963.0 1685.5,961.0 1686.6,968.0 1687.6,981.8 1688.7,987.8 1689.7,999.9 1690.8,984.4 1691.8,965.2 1692.9,960.7 1693.9,963.8 1695.0,961.0 1696.0,987.2 1697.1,980.6 1698.1,979.3 1699.2,970.5 1700.2,968.3 1701.3,976.0 1702.3,973.0 1703.4,981.6 1704.4,983.0 1705.5,969.2 1706.5,963.1 1707.6,955.6 1708.6,945.2 1709.7,944.1 1710.7,950.8 1711.8,947.1 1712.8,949.4 1713.9,962.2 1714.9,968.3 1716.0,963.2 1717.0,963.8 1718.1,957.8 1719.1,956.8 1720.2,959.9 1721.3,955.9 1722.3,958.9 1723.4,984.1 1724.4,982.8 1725.5,974.9 1726.5,974.1 1727.6,968.3 1728.6,975.4 1729.7,990.4 1730.7,990.2 1731.8,982.6 1732.8,984.0 1733.9,979.9 1734.9,959.9 1736.0,958.3 1737.0,964.5 1738.1,961.0 1739.1,967.0 1740.2,981.8 1741.2,988.3 1742.3,980.6 1743.3,978.0 1744.4,969.4 1745.4,969.5 1746.5,978.8 1747.5,979.9 1748.6,954.7 1749.6,952.5 1750.7,959.8 1751.7,956.8 1752.8,981.3 1753.8,1006.2 1754.9,1003.5 1755.9,993.7 1757.0,989.3 1758.0,952.6 1759.1,954.2 1760.1,949.9 1761.2,953.6 1762.2,959.8 1763.3,957.7 1764.3,965.2 1765.4,984.1 1766.5,988.4 1767.5,981.9 1768.6,988.7 1769.6,987.2 1770.7,976.6 1771.7,977.2 1772.8,967.3 1773.8,965.7 1774.9,973.1 1775.9,973.6 1777.0,1004.1 1778.0,992.6 1779.1,990.3 1780.1,979.9 1781.2,974.9 1782.2,981.8 1783.3,974.9 1784.3,975.7 1785.4,988.9 1786.4,995.4 1787.5,1008.3 1788.5,973.6 1789.6,979.8 1790.6,978.9 1791.7,987.7 1792.7,988.3 1793.8,973.1 1794.8,961.0 1795.9,963.7 1796.9,963.1 1798.0,990.4 1799.0,985.8 1800.1,987.6 1801.1,981.8 1802.2,982.0 1803.2,986.2 1804.3,979.4 1805.3,985.3 1806.4,984.1 1807.4,983.9 1808.5,986.2 1809.5,977.1 1810.6,961.0 1811.7,958.5 1812.7,966.6 1813.8,965.2 1814.8,969.2 1815.9,978.2 1816.9,982.0 1818.0,958.0 1819.0,939.9 1820.1,943.8 1821.1,938.7 1822.2,941.7 1823.2,939.9 1824.3,934.4 1825.3,933.6 1826.4,937.0 1827.4,933.1 1828.5,937.8 1829.5,956.8" fill="none" stroke="#ff0000" stroke-width="6.5" stroke-linejoin="round"/><polyline points="279.4,1113.9 280.6,1115.0 281.8,1113.1 283.1,1113.9 284.1,1115.4 285.2,1113.2 286.2,1115.3 287.3,1112.8 288.3,1114.6 289.4,1112.6 290.5,1114.6 291.5,1112.7 292.6,1113.9 293.7,1115.2 294.9,1114.4 296.1,1116.9 297.3,1114.5 298.4,1116.9 299.5,1116.8 300.5,1114.3 301.6,1115.8 302.6,1111.6 303.7,1114.1 304.7,1110.7 305.8,1111.0 306.8,1113.6 307.8,1111.6 308.9,1114.7 309.9,1112.5 311.0,1114.9 312.0,1114.0 313.1,1115.4 314.2,1115.6 315.4,1111.9 316.6,1113.6 317.8,1110.5 318.9,1111.0 320.0,1113.1 321.0,1111.1 322.1,1114.3 323.1,1112.8 324.2,1114.8 325.2,1113.9 326.3,1115.4 327.3,1117.0 328.3,1114.2 329.4,1116.4 330.4,1114.0 331.5,1116.6 332.5,1114.4 333.6,1115.4 334.7,1116.8 335.9,1113.2 337.1,1115.5 338.3,1112.8 339.4,1113.9 340.4,1116.2 341.4,1114.1 342.4,1116.9 343.4,1117.9 344.5,1114.6 345.5,1117.0 346.5,1113.6 347.6,1114.9 348.6,1111.4 349.7,1112.5 350.7,1113.7 351.8,1112.0 352.8,1114.4 353.9,1112.6 354.9,1116.2 356.0,1113.6 357.0,1115.4 358.2,1116.9 359.4,1113.8 360.5,1116.1 361.7,1112.8 362.9,1113.9 364.0,1115.6 365.2,1113.3 366.4,1116.6 367.6,1113.2 368.7,1115.4 369.8,1117.8 370.9,1116.1 372.0,1119.4 373.1,1119.8 374.2,1117.1 375.3,1119.1 376.4,1114.5 377.5,1115.4 378.6,1116.7 379.6,1113.6 380.6,1115.3 381.7,1112.2 382.7,1113.9 383.8,1111.6 384.8,1112.5 385.9,1113.9 386.9,1113.0 388.0,1115.0 389.0,1113.3 390.1,1116.4 391.1,1115.3 392.2,1116.9 393.3,1117.1 394.5,1113.3 395.7,1114.9 396.8,1112.1 398.0,1112.5 399.2,1114.4 400.4,1111.8 401.5,1116.0 402.7,1113.0 403.9,1115.4 404.9,1116.4 406.0,1114.2 407.0,1116.5 408.1,1113.6 409.1,1117.3 410.1,1114.6 411.2,1115.4 412.4,1115.7 413.5,1113.3 414.7,1114.6 415.9,1111.8 417.1,1112.5 418.1,1115.0 419.2,1113.7 420.3,1116.4 421.4,1116.9 422.6,1115.1 423.8,1116.8 425.0,1113.7 426.1,1116.5 427.3,1113.9 428.5,1112.4 429.6,1115.3 430.8,1112.5 432.0,1115.5 433.2,1113.9 434.2,1113.7 435.3,1116.6 436.3,1113.5 437.3,1117.4 438.4,1114.3 439.4,1117.6 440.5,1116.9 441.5,1113.9 442.5,1114.1 443.6,1110.1 444.6,1110.5 445.6,1108.1 446.6,1108.6 447.7,1111.3 448.7,1110.8 449.7,1113.8 450.7,1113.9 451.9,1113.6 453.1,1115.1 454.2,1114.0 455.4,1115.8 456.6,1115.4 457.6,1114.5 458.7,1116.5 459.7,1114.2 460.8,1117.7 461.8,1115.6 462.9,1117.6 463.9,1116.9 465.0,1115.4 466.0,1117.1 467.1,1114.8 468.1,1117.0 469.1,1112.8 470.2,1115.6 471.2,1113.9 472.4,1112.7 473.6,1114.7 474.7,1113.2 475.9,1115.0 477.1,1113.9 478.3,1113.0 479.4,1115.7 480.6,1113.1 481.8,1114.6 482.9,1113.9 484.0,1112.4 485.1,1116.0 486.2,1114.2 487.3,1115.4 488.4,1115.3 489.5,1111.8 490.6,1112.3 491.7,1109.5 492.8,1108.2 493.8,1112.6 494.9,1109.8 495.9,1113.0 497.0,1111.6 498.0,1114.1 499.1,1113.9 500.2,1112.0 501.4,1114.7 502.6,1111.4 503.7,1113.8 504.9,1112.5 505.9,1107.8 506.9,1106.1 507.8,1100.8 508.8,1097.3 509.8,1099.6 510.8,1096.4 511.8,1095.1 512.7,1099.1 513.7,1097.8 515.2,1108.1 516.3,1107.3 517.5,1110.8 518.7,1109.4 519.9,1112.7 521.0,1112.5 522.1,1112.9 523.2,1115.3 524.3,1114.8 525.4,1116.9 526.5,1117.8 527.5,1115.3 528.6,1118.8 529.6,1115.6 530.6,1118.8 531.7,1114.9 532.7,1116.9 533.8,1119.0 534.8,1116.2 535.9,1118.4 536.9,1116.8 538.0,1118.8 539.0,1117.2 540.1,1118.3 541.2,1118.3 542.3,1113.5 543.4,1115.7 544.5,1112.5 545.6,1112.3 546.7,1116.2 547.8,1114.0 548.8,1116.9 549.9,1118.3 551.0,1116.8 552.1,1120.9 553.2,1119.8 554.3,1116.3 555.3,1117.8 556.3,1113.0 557.3,1112.5 558.4,1113.5 559.4,1111.2 560.5,1114.2 561.5,1111.6 562.6,1115.5 563.6,1112.6 564.6,1113.9 565.7,1115.8 566.8,1113.5 567.9,1117.7 569.0,1116.0 570.1,1118.4 571.2,1117.5 572.3,1120.9 573.4,1119.8 574.6,1117.2 575.8,1118.8 576.9,1115.4 578.1,1118.2 579.3,1115.4 580.3,1114.1 581.4,1116.9 582.4,1114.7 583.5,1117.0 584.5,1115.8 585.6,1118.6 586.6,1116.9 587.7,1114.6 588.8,1116.7 589.9,1112.8 591.0,1115.1 592.1,1111.4 593.2,1114.2 594.3,1110.8 595.4,1111.0 596.4,1112.6 597.5,1111.2 598.5,1113.8 599.6,1112.1 600.6,1115.1 601.7,1113.6 602.7,1115.4 603.8,1115.3 604.8,1111.8 605.9,1114.0 606.9,1110.8 607.9,1112.6 609.0,1108.5 610.0,1109.5 611.2,1111.0 612.4,1108.2 613.6,1111.7 614.7,1109.4 615.9,1111.0 617.1,1112.0 618.2,1109.8 619.4,1111.3 620.6,1109.0 621.8,1109.5 622.9,1111.2 624.0,1110.0 625.1,1113.7 626.2,1112.7 627.2,1116.6 628.3,1114.8 629.4,1118.3 630.5,1118.3 631.6,1115.7 632.6,1117.2 633.7,1112.9 634.7,1114.1 635.8,1110.7 636.8,1111.7 637.9,1109.5 639.0,1110.7 640.1,1115.6 641.2,1114.8 642.3,1118.3 643.3,1119.3 644.4,1115.8 645.4,1118.9 646.4,1115.4 647.5,1117.7 648.5,1114.5 649.6,1115.4 650.6,1117.7 651.5,1115.8 652.5,1118.3 653.7,1119.0 654.9,1115.8 656.0,1117.8 657.2,1114.1 658.4,1115.4 659.5,1116.4 660.7,1112.4 661.9,1115.6 663.1,1112.1 664.2,1112.5 665.3,1114.1 666.3,1111.0 667.4,1114.9 668.4,1112.5 669.5,1114.3 670.5,1112.5 671.5,1113.9 672.7,1114.3 673.9,1112.4 675.1,1113.8 676.2,1111.2 677.4,1112.5 678.5,1114.5 679.6,1111.3 680.7,1114.4 681.8,1113.9 682.9,1106.3 684.0,1100.8 685.1,1101.5 686.2,1099.3 687.4,1099.4 688.5,1102.9 689.7,1100.0 690.9,1103.7 692.1,1103.7 693.1,1101.9 694.2,1105.2 695.3,1102.9 696.4,1106.4 697.5,1102.8 698.6,1105.6 699.7,1103.8 700.8,1105.1 701.9,1107.9 703.0,1107.0 704.1,1110.4 705.2,1111.0 706.4,1110.3 707.6,1113.2 708.7,1111.3 709.9,1113.6 711.1,1112.5 712.3,1112.7 713.4,1116.0 714.6,1115.8 715.8,1119.8 716.9,1119.8 718.1,1117.0 719.3,1117.6 720.5,1113.4 721.6,1115.6 722.8,1112.5 723.8,1110.7 724.9,1113.6 725.9,1112.1 727.0,1114.0 728.0,1111.8 729.1,1114.7 730.1,1113.9 731.3,1112.6 732.5,1114.0 733.6,1110.3 734.8,1113.3 736.0,1111.0 737.1,1111.5 738.2,1114.7 739.3,1113.5 740.4,1116.9 741.5,1117.4 742.7,1113.5 743.9,1115.0 745.1,1112.7 746.2,1112.5 747.4,1114.9 748.6,1113.0 749.7,1115.8 750.9,1114.1 752.1,1116.9 753.3,1117.5 754.4,1113.4 755.6,1114.9 756.8,1111.5 757.9,1112.5 759.1,1112.9 760.3,1110.1 761.5,1112.8 762.6,1110.2 763.8,1111.0 764.9,1113.0 765.9,1110.4 766.9,1113.9 768.0,1112.7 769.0,1115.5 770.1,1113.8 771.1,1115.4 772.2,1115.4 773.3,1113.1 774.4,1113.9 775.5,1111.6 776.6,1112.8 777.7,1110.0 778.8,1111.9 779.9,1109.5 781.0,1109.2 782.0,1112.1 783.1,1110.6 784.1,1113.1 785.1,1112.1 786.2,1114.3 787.2,1113.9 788.3,1113.7 789.4,1116.3 790.5,1113.7 791.6,1116.3 792.7,1114.5 793.8,1118.0 794.9,1115.7 796.0,1116.9 797.2,1118.0 798.4,1114.5 799.5,1116.4 800.7,1112.8 801.9,1113.9 803.1,1115.1 804.2,1112.6 805.4,1115.5 806.6,1112.0 807.7,1113.9 808.9,1114.1 810.1,1110.4 811.3,1112.9 812.4,1108.9 813.6,1109.5 814.8,1111.9 815.9,1110.8 817.1,1113.7 818.3,1113.4 819.5,1115.4 820.5,1115.7 821.5,1112.9 822.6,1115.1 823.6,1112.9 824.7,1114.0 825.7,1111.1 826.8,1112.5 827.8,1114.7 828.8,1111.7 829.8,1114.6 830.9,1113.9 832.0,1113.3 833.2,1115.5 834.4,1113.6 835.5,1115.9 836.7,1115.4 837.9,1113.7 839.0,1115.4 840.1,1112.0 841.3,1115.4 842.4,1111.6 843.5,1113.4 844.7,1110.0 845.8,1112.5 847.0,1111.0 848.0,1110.3 849.1,1112.4 850.1,1111.1 851.2,1113.9 852.2,1111.8 853.2,1114.4 854.3,1113.9 855.3,1112.2 856.4,1113.7 857.4,1111.7 858.5,1113.0 859.5,1110.7 860.6,1112.1 861.6,1111.0 862.7,1111.0 863.7,1113.3 864.7,1112.0 865.8,1114.9 866.8,1112.8 867.9,1116.4 868.9,1115.4 870.1,1113.6 871.2,1116.3 872.4,1112.6 873.5,1115.2 874.6,1112.7 875.8,1115.4 876.9,1112.3 878.0,1114.4 879.2,1112.5 880.2,1111.0 881.3,1113.1 882.3,1110.7 883.4,1114.3 884.4,1111.0 885.5,1114.1 886.5,1112.5 887.6,1111.3 888.7,1114.4 889.8,1112.8 890.9,1116.0 892.0,1113.4 893.1,1117.5 894.2,1114.6 895.3,1116.9 896.4,1118.1 897.6,1114.7 898.7,1117.9 899.8,1114.6 901.0,1117.0 902.1,1115.2 903.3,1116.5 904.4,1114.5 905.5,1115.4 906.6,1116.1 907.6,1113.6 908.7,1116.8 909.7,1113.9 910.8,1116.9 911.8,1113.8 912.9,1115.4 913.9,1116.9 915.0,1115.2 916.0,1117.7 917.1,1114.6 918.1,1117.7 919.1,1115.3 920.2,1116.9 921.2,1118.0 922.3,1115.3 923.3,1117.2 924.4,1114.2 925.4,1115.5 926.5,1113.4 927.5,1113.9 928.6,1114.8 929.7,1111.6 930.8,1113.4 931.9,1111.0 932.9,1109.9 934.0,1114.0 935.0,1112.4 936.1,1115.6 937.1,1113.6 938.2,1117.7 939.2,1116.9 940.4,1115.2 941.5,1118.0 942.6,1115.7 943.8,1117.0 944.9,1115.1 946.1,1117.5 947.2,1114.7 948.3,1117.0 949.5,1115.4 950.5,1114.8 951.6,1116.1 952.6,1114.4 953.7,1116.9 954.7,1113.8 955.8,1116.9 956.8,1115.4 957.8,1114.2 958.9,1116.3 959.9,1113.5 961.0,1115.8 962.0,1113.6 963.1,1116.0 964.1,1113.9 965.2,1112.9 966.3,1115.5 967.4,1111.5 968.5,1113.8 969.6,1111.8 970.7,1114.6 971.8,1110.7 972.9,1112.5 974.0,1114.1 975.1,1112.2 976.2,1114.5 977.3,1112.0 978.4,1115.2 979.5,1113.3 980.6,1115.8 981.7,1115.4 982.7,1113.9 983.8,1116.9 984.8,1114.0 985.9,1116.3 986.9,1113.0 988.0,1116.0 989.0,1113.9 990.1,1112.3 991.2,1114.9 992.3,1112.1 993.4,1115.2 994.5,1113.3 995.6,1114.5 996.7,1112.6 997.8,1113.9 998.9,1115.5 1000.1,1113.6 1001.2,1115.7 1002.4,1114.2 1003.5,1116.6 1004.6,1114.1 1005.8,1116.8 1006.9,1114.9 1008.1,1116.9 1009.1,1118.4 1010.1,1115.7 1011.2,1118.1 1012.2,1114.4 1013.3,1117.7 1014.3,1114.6 1015.4,1115.4 1016.5,1116.3 1017.6,1113.9 1018.7,1116.8 1019.8,1113.2 1020.9,1115.6 1022.0,1113.1 1023.1,1115.1 1024.2,1113.9 1025.3,1113.3 1026.4,1114.7 1027.5,1112.2 1028.6,1114.9 1029.7,1112.0 1030.8,1114.9 1031.9,1113.0 1032.9,1113.9 1034.1,1114.7 1035.3,1111.9 1036.5,1113.3 1037.6,1109.7 1038.8,1111.0 1039.9,1112.8 1041.0,1109.3 1042.1,1112.5 1043.2,1109.1 1044.3,1112.9 1045.4,1109.6 1046.5,1112.6 1047.6,1111.0 1048.6,1110.5 1049.7,1113.0 1050.7,1110.4 1051.8,1113.5 1052.8,1110.5 1053.9,1113.3 1054.9,1112.5 1056.0,1111.6 1057.0,1113.9 1058.1,1111.1 1059.1,1112.9 1060.1,1110.3 1061.2,1112.2 1062.2,1111.0 1063.4,1110.2 1064.6,1114.7 1065.8,1112.7 1066.9,1116.0 1068.1,1115.4 1069.3,1113.8 1070.4,1115.6 1071.6,1112.5 1072.8,1113.9 1074.0,1112.5 1075.1,1112.0 1076.2,1114.1 1077.2,1111.7 1078.3,1115.2 1079.4,1113.4 1080.5,1116.5 1081.6,1113.0 1082.7,1115.4 1083.9,1116.0 1085.1,1113.4 1086.3,1114.5 1087.4,1112.3 1088.6,1112.5 1089.7,1113.1 1090.9,1110.8 1092.0,1111.9 1093.2,1109.6 1094.3,1111.4 1095.4,1107.7 1096.6,1110.7 1097.7,1107.4 1098.8,1108.1 1099.9,1110.4 1101.0,1108.9 1102.1,1112.5 1103.2,1112.5 1102.9,1109.5 1104.1,1109.1 1105.3,1111.4 1106.4,1110.3 1107.6,1113.8 1108.8,1112.5 1110.0,1111.4 1111.1,1113.2 1112.3,1110.1 1113.5,1113.1 1114.6,1111.0 1115.8,1111.3 1117.0,1114.3 1118.2,1113.6 1119.3,1116.9 1120.5,1116.9 1121.6,1113.8 1122.7,1115.1 1123.8,1109.6 1124.9,1109.5 1126.0,1111.7 1127.1,1109.6 1128.2,1111.3 1129.3,1111.0 1130.4,1107.6 1131.5,1109.2 1132.6,1104.2 1133.7,1103.7 1134.9,1105.4 1136.0,1103.7 1137.2,1105.7 1138.4,1103.0 1139.5,1105.1 1140.6,1106.3 1141.6,1102.1 1142.7,1105.2 1143.7,1101.7 1144.8,1102.8 1145.8,1100.6 1146.9,1100.8 1148.0,1103.3 1149.2,1101.5 1150.4,1106.2 1151.5,1103.8 1152.7,1106.6 1153.8,1107.7 1154.8,1104.1 1155.9,1106.6 1156.9,1103.6 1157.9,1105.2 1159.0,1102.4 1160.0,1103.7 1161.2,1105.5 1162.4,1103.6 1163.6,1107.8 1164.7,1106.2 1165.9,1108.1 1167.1,1108.9 1168.2,1107.1 1169.4,1109.6 1170.6,1106.5 1171.8,1108.1 1172.9,1111.4 1174.0,1112.5 1175.1,1117.1 1176.2,1118.3 1177.3,1115.7 1178.5,1117.1 1179.7,1113.9 1180.8,1115.1 1182.0,1112.5 1183.2,1112.7 1184.4,1115.2 1185.5,1113.9 1186.7,1117.9 1187.9,1116.9 1188.9,1114.5 1190.0,1117.0 1191.0,1113.1 1192.1,1114.4 1193.1,1111.7 1194.1,1113.8 1195.2,1111.0 1196.2,1109.4 1197.3,1112.0 1198.3,1110.4 1199.4,1112.3 1200.4,1109.5 1201.5,1112.2 1202.5,1111.0 1203.6,1111.1 1204.7,1114.7 1205.8,1112.4 1206.9,1115.4 1208.1,1117.2 1209.2,1116.5 1210.4,1119.1 1211.6,1117.7 1212.8,1119.8 1213.9,1119.9 1215.0,1116.0 1216.1,1117.1 1217.2,1113.9 1218.2,1112.1 1219.2,1114.8 1220.3,1112.4 1221.3,1115.1 1222.4,1111.9 1223.4,1114.4 1224.5,1112.5 1225.6,1112.4 1226.8,1115.1 1228.0,1113.4 1229.2,1117.0 1230.3,1116.9 1231.4,1114.1 1232.4,1116.5 1233.5,1113.5 1234.5,1114.4 1235.6,1111.5 1236.6,1113.4 1237.7,1111.0 1238.8,1109.1 1240.0,1111.8 1241.2,1109.9 1242.3,1111.9 1243.5,1111.0 1244.6,1109.8 1245.7,1113.3 1246.8,1112.5 1247.9,1113.9 1249.0,1112.4 1250.1,1108.4 1251.2,1109.2 1252.3,1105.1 1253.5,1103.9 1254.6,1107.9 1255.8,1104.9 1257.0,1109.4 1258.2,1108.1 1259.3,1107.0 1260.5,1108.9 1261.7,1106.2 1262.8,1109.7 1264.0,1108.1 1265.2,1108.3 1266.4,1111.4 1267.5,1109.6 1268.7,1112.7 1269.9,1112.5 1271.0,1109.2 1272.1,1108.9 1273.2,1105.3 1274.3,1103.7 1275.2,1101.7 1276.2,1096.7 1277.2,1094.9 1278.3,1097.9 1279.4,1096.3 1280.5,1100.1 1281.6,1099.3 1282.6,1100.8 1283.5,1105.3 1284.5,1106.6 1285.7,1104.9 1286.9,1108.4 1288.0,1105.4 1289.2,1107.3 1290.4,1106.6 1291.4,1105.6 1292.5,1108.2 1293.5,1105.4 1294.6,1108.3 1295.6,1106.5 1296.7,1109.7 1297.7,1108.1 1298.9,1109.2 1300.0,1112.8 1301.2,1111.6 1302.4,1116.8 1303.6,1116.9 1304.7,1114.7 1305.9,1114.6 1307.1,1111.8 1308.2,1112.9 1309.4,1109.5 1310.6,1109.5 1311.8,1112.9 1312.9,1110.3 1314.1,1114.1 1315.3,1113.9 1316.4,1111.5 1317.5,1112.9 1318.6,1108.1 1319.7,1108.1 1320.8,1108.7 1322.0,1105.9 1323.2,1108.2 1324.4,1105.9 1325.5,1106.6 1326.7,1106.6 1327.9,1103.8 1329.0,1106.7 1330.2,1102.8 1331.4,1103.7 1332.6,1104.4 1333.7,1100.7 1334.9,1101.1 1336.1,1097.7 1337.2,1097.8 1338.4,1099.2 1339.6,1094.7 1340.8,1097.2 1341.9,1094.5 1343.1,1094.9 1344.3,1097.6 1345.4,1096.5 1346.6,1101.2 1347.8,1099.9 1349.0,1102.2 1349.9,1106.4 1350.9,1105.5 1351.9,1109.5 1353.1,1111.6 1354.2,1108.4 1355.4,1111.9 1356.6,1109.7 1357.7,1111.0 1358.9,1112.1 1360.1,1109.9 1361.3,1112.7 1362.4,1110.3 1363.6,1111.0 1364.8,1112.8 1365.9,1111.1 1367.1,1114.6 1368.3,1113.8 1369.5,1115.4 1370.6,1115.5 1371.8,1112.9 1373.0,1114.7 1374.1,1111.1 1375.3,1112.5 1376.5,1114.8 1377.8,1111.5 1379.0,1113.9 1377.9,1114.2 1379.1,1116.0 1380.3,1115.2 1381.4,1117.6 1382.6,1116.4 1383.8,1118.6 1385.0,1119.3 1386.1,1115.6 1387.3,1116.9 1388.5,1113.9 1389.6,1114.2 1390.7,1116.0 1391.8,1113.4 1392.9,1116.9 1394.0,1115.6 1395.1,1112.0 1396.2,1113.5 1397.3,1109.4 1398.4,1108.3 1399.6,1110.7 1400.8,1108.5 1401.9,1111.5 1403.1,1109.5 1404.3,1111.3 1405.5,1112.6 1406.6,1109.8 1407.8,1111.3 1409.0,1109.1 1410.1,1109.8 1411.3,1111.5 1412.5,1109.7 1413.7,1113.8 1414.8,1112.2 1416.0,1114.2 1417.0,1117.3 1418.0,1116.1 1418.9,1120.0 1420.0,1119.5 1421.1,1115.5 1422.2,1116.3 1423.3,1112.7 1424.4,1108.7 1425.5,1109.5 1426.6,1104.3 1427.7,1102.5 1428.7,1108.9 1429.7,1115.0 1430.6,1121.5 1431.7,1121.5 1432.8,1116.0 1433.9,1116.7 1435.0,1114.2 1436.2,1112.0 1437.4,1112.6 1438.6,1109.8 1439.7,1111.5 1440.9,1108.3 1442.0,1109.1 1443.1,1114.6 1444.2,1113.8 1445.3,1117.1 1446.4,1119.3 1447.5,1116.6 1448.6,1119.2 1449.7,1118.6 1450.9,1114.9 1452.0,1116.4 1453.2,1111.7 1454.4,1111.8 1455.5,1108.3 1456.7,1109.5 1457.9,1113.8 1459.1,1114.4 1460.2,1118.4 1461.4,1120.0 1462.4,1117.2 1463.4,1117.1 1464.3,1114.2 1465.4,1112.5 1466.4,1115.3 1467.5,1112.7 1468.5,1114.0 1469.6,1112.1 1470.6,1114.5 1471.7,1112.7 1472.8,1111.3 1474.0,1112.6 1475.2,1110.1 1476.3,1112.1 1477.5,1109.8 1478.6,1109.9 1479.7,1113.4 1480.8,1113.4 1481.9,1115.6 1483.0,1114.2 1484.1,1109.2 1485.2,1109.4 1486.3,1105.4 1487.5,1103.5 1488.6,1103.9 1489.8,1100.3 1491.0,1101.9 1492.2,1099.5 1493.3,1098.3 1494.5,1100.0 1495.7,1096.7 1496.8,1099.4 1498.0,1098.1 1499.0,1100.8 1500.0,1106.8 1500.9,1109.8 1502.1,1108.0 1503.3,1110.4 1504.5,1106.0 1505.6,1108.6 1506.8,1106.9 1508.0,1106.9 1509.1,1110.2 1510.3,1108.6 1511.5,1111.0 1512.7,1111.3 1513.8,1107.9 1514.9,1109.5 1516.0,1105.1 1517.1,1105.4 1518.1,1104.7 1519.2,1099.9 1520.3,1101.2 1521.4,1098.1 1522.5,1099.4 1523.6,1103.1 1524.7,1103.3 1525.8,1106.9 1526.9,1109.1 1528.0,1106.5 1529.1,1109.8 1530.2,1109.8 1531.2,1104.9 1532.2,1104.0 1533.2,1099.5 1534.2,1097.8 1535.3,1099.5 1536.3,1097.3 1537.3,1099.2 1538.4,1095.6 1539.4,1097.8 1540.5,1096.6 1541.5,1098.8 1542.4,1105.1 1543.4,1106.9 1544.6,1103.4 1545.8,1104.8 1546.9,1101.7 1548.1,1102.9 1549.3,1099.5 1550.4,1100.2 1551.5,1105.9 1552.6,1106.6 1553.7,1109.8 1554.8,1108.4 1555.9,1103.0 1557.0,1102.6 1558.1,1098.1 1559.2,1096.3 1560.4,1099.2 1561.6,1096.4 1562.7,1098.6 1563.9,1096.6 1565.4,1109.8 1566.5,1107.4 1567.7,1108.0 1568.9,1103.6 1570.1,1105.7 1571.2,1102.5 1572.2,1096.8 1573.2,1092.1 1574.2,1086.4 1575.1,1086.2 1576.1,1089.6 1577.1,1089.3 1578.1,1091.6 1579.0,1096.9 1580.0,1099.5 1581.1,1100.4 1582.2,1104.8 1583.3,1103.2 1584.4,1106.9 1585.6,1109.3 1586.8,1109.0 1587.9,1113.8 1589.1,1113.2 1590.3,1115.6 1591.2,1109.5 1592.2,1102.9 1593.2,1096.6 1594.3,1101.0 1595.4,1103.2 1596.5,1108.4 1597.6,1111.3 1598.7,1107.5 1599.8,1106.4 1600.9,1101.3 1602.0,1099.5 1603.0,1102.3 1604.1,1103.5 1605.1,1106.9 1606.2,1108.3 1607.2,1111.3 1608.3,1112.8 1609.3,1115.6 1610.5,1113.9 1611.7,1109.7 1612.8,1108.9 1614.0,1104.0 1615.2,1102.5 1616.3,1105.2 1617.5,1104.5 1618.7,1108.1 1619.9,1107.6 1621.0,1109.8 1622.2,1112.0 1623.4,1111.5 1624.5,1114.9 1625.7,1114.4 1626.9,1117.1 1628.0,1118.4 1629.1,1116.5 1630.2,1118.6 1631.3,1117.1 1632.7,1102.5 1633.9,1100.9 1635.1,1102.3 1636.3,1098.1 1637.4,1100.3 1638.6,1098.1 1639.7,1100.0 1640.8,1104.5 1641.9,1104.7 1643.0,1108.3 1644.1,1108.1 1645.2,1103.1 1646.3,1103.5 1647.4,1099.5 1648.5,1096.4 1649.6,1099.0 1650.7,1094.5 1651.8,1095.1 1652.9,1095.1 1653.9,1091.2 1655.0,1093.5 1656.1,1091.3 1657.3,1090.8 1658.5,1096.2 1659.7,1095.0 1660.9,1097.3 1662.1,1097.8 1663.3,1093.0 1664.5,1093.7 1665.7,1096.4 1666.9,1096.6 1668.1,1099.7 1669.3,1106.6 1670.5,1110.5 1671.7,1109.1 1672.9,1111.2 1674.1,1107.7 1675.3,1108.1 1676.5,1110.5 1677.7,1108.5 1678.9,1111.2 1680.1,1110.5 1681.3,1112.2 1682.6,1117.7 1683.8,1118.6 1685.0,1116.8 1686.2,1119.0 1687.4,1117.7 1688.6,1114.7 1689.8,1114.4 1691.0,1111.7 1692.2,1108.9 1693.4,1108.5 1694.6,1105.7 1695.8,1106.6 1697.0,1112.9 1698.2,1114.1 1699.4,1110.3 1700.6,1111.0 1701.8,1108.1 1703.0,1107.0 1704.2,1110.1 1705.4,1108.6 1706.6,1110.5 1707.6,1115.7 1708.6,1117.7 1709.6,1122.6 1710.6,1120.0 1711.6,1113.4 1712.6,1110.5 1713.8,1111.1 1715.0,1107.1 1716.2,1108.1 1717.4,1111.9 1718.6,1114.1 1719.8,1111.5 1721.0,1114.4 1722.2,1111.2 1723.5,1111.7 1724.7,1112.6 1725.9,1109.2 1727.1,1109.3 1728.3,1112.0 1729.5,1109.4 1730.7,1112.6 1731.9,1110.5 1733.1,1112.9 1734.3,1115.4 1735.5,1115.3 1736.7,1108.1 1737.9,1102.1 1739.1,1108.6 1740.3,1111.7 1741.5,1114.1 1742.7,1117.7 1743.9,1115.1 1745.1,1109.0 1746.3,1105.7 1747.5,1106.4 1748.7,1102.1 1749.9,1103.3 1751.1,1103.5 1752.3,1100.9 1753.5,1111.7 1754.7,1122.6 1755.9,1119.9 1757.1,1114.8 1758.3,1111.7 1759.5,1113.6 1760.7,1113.3 1761.9,1116.8 1763.1,1116.5 1764.4,1113.3 1765.6,1113.8 1766.8,1110.5 1768.0,1108.1 1769.2,1110.1 1770.4,1107.8 1771.6,1108.1 1772.8,1112.4 1774.0,1113.1 1775.2,1116.5 1776.4,1111.7 1777.6,1105.7 1778.8,1107.4 1780.0,1112.1 1781.2,1114.1 1782.4,1112.7 1783.6,1114.4 1784.8,1111.8 1786.0,1112.9 1787.2,1115.6 1788.4,1114.4 1789.6,1116.5 1790.8,1116.4 1792.0,1112.1 1793.2,1111.7 1794.4,1113.7 1795.6,1114.1 1796.8,1114.2 1798.0,1119.1 1799.2,1120.1 1800.4,1115.8 1801.6,1113.6 1802.8,1109.3 1804.0,1107.2 1805.3,1109.9 1806.5,1105.8 1807.7,1106.9 1808.9,1110.7 1810.1,1111.4 1811.3,1115.6 1812.5,1117.7 1813.7,1110.5 1814.9,1105.7 1816.1,1106.7 1817.3,1103.8 1818.5,1104.5 1819.7,1109.5 1820.9,1110.6 1822.1,1115.3 1823.3,1110.8 1824.5,1103.3 1825.5,1100.9 1826.5,1102.6 1827.5,1100.9" fill="none" stroke="#000" stroke-width="7" stroke-linejoin="round"/><text x="242.1" y="1128.5" class="tk" text-anchor="end">0</text><text x="242.1" y="951.3" class="tk" text-anchor="end">2000</text><text x="242.1" y="774.2" class="tk" text-anchor="end">4000</text><text x="242.1" y="597.0" class="tk" text-anchor="end">6000</text><text x="242.1" y="419.8" class="tk" text-anchor="end">8000</text><text x="242.1" y="242.7" class="tk" text-anchor="end">10000</text><text x="242.1" y="65.5" class="tk" text-anchor="end">12000</text><text x="278.5" y="1280.5" class="tk" text-anchor="middle">400</text><text x="500.4" y="1280.5" class="tk" text-anchor="middle">600</text><text x="722.2" y="1280.5" class="tk" text-anchor="middle">800</text><text x="944.1" y="1280.5" class="tk" text-anchor="middle">1000</text><text x="1165.9" y="1280.5" class="tk" text-anchor="middle">1200</text><text x="1387.8" y="1280.5" class="tk" text-anchor="middle">1400</text><text x="1609.6" y="1280.5" class="tk" text-anchor="middle">1600</text><text x="1831.5" y="1280.5" class="tk" text-anchor="middle">1800</text><text transform="translate(464.00,188.00) scale(0.9412,1)" class="sf b" font-size="71.00" fill="#0000ff">613</text><text transform="translate(647.00,535.00) scale(0.9798,1)" class="sf b" font-size="71.00" fill="#0000ff">771</text><text transform="translate(1087.00,566.50) scale(1.0078,1)" class="sf b" font-size="71.00" fill="#0000ff">1182</text><text transform="translate(1191.00,487.50) scale(0.9850,1)" class="sf b" font-size="71.00" fill="#0000ff">1309</text><text transform="translate(1283.00,286.50) scale(0.9850,1)" class="sf b" font-size="71.00" fill="#0000ff">1362</text><text transform="translate(1433.50,382.00) scale(0.9704,1)" class="sf b" font-size="71.00" fill="#0000ff">1514</text><text transform="translate(1514.50,446.00) scale(0.9704,1)" class="sf b" font-size="71.00" fill="#0000ff">1574</text><text transform="translate(1608.00,509.50) scale(0.9851,1)" class="sf b" font-size="71.00" fill="#0000ff">1647</text><text transform="translate(709.20,911.00) scale(0.9710,1)" class="sf b" font-size="71.00" fill="#0000ff">Cu-Cr alloy film</text><text transform="translate(714.50,1072.50) scale(0.9706,1)" class="sf b" font-size="71.00" fill="#ff0000">Cu-Cr bulk alloy</text><text transform="translate(853.00,1183.50) scale(0.9559,1)" class="sf b" font-size="71.00" fill="#000">PI</text><text transform="translate(1357.50,149.00) scale(0.9615,1)" class="sf b" font-size="71.00" fill="#ff00ff">1</text><text transform="translate(1390.20,155.20) scale(1.0382,1)" class="sf n" font-size="61.22" fill="#ff00ff">×</text><text transform="translate(1423.00,149.35)" class="sf b" font-size="71.00" fill="#ff00ff">10</text><text transform="translate(1492.65,121.95) scale(0.9786,1)" class="sf b" font-size="43.36" fill="#ff00ff">-3</text><text transform="translate(1545.55,149.95) scale(0.9674,1)" class="sf b" font-size="71.00" fill="#ff00ff">M R6G</text><text transform="translate(677.70,1397.75) scale(1.0083,1)" class="sf b" font-size="92.50" fill="#000">Raman shift</text><text transform="translate(1190.35,1396.90) scale(1.0855,1)" class="sf n" font-size="56.07" fill="#000">(</text><text transform="translate(1234.05,1396.90) scale(0.9766,1)" class="sf b" font-size="92.50" fill="#000">cm</text><text transform="translate(1351.35,1350.85) scale(0.9669,1)" class="sf b" font-size="57.45" fill="#000">-1</text><text transform="translate(1412.85,1396.90) scale(1.1211,1)" class="sf n" font-size="56.02" fill="#000">)</text><text transform="translate(91.40,854.00) rotate(-90) scale(1.0087,1)" class="sf b" font-size="92.50" fill="#000">Intensity</text><text transform="translate(90.15,501.80) rotate(-90) scale(1.1044,1)" class="sf n" font-size="56.14" fill="#000">(</text><text transform="translate(90.60,482.40) rotate(-90) scale(1.0163,1)" class="sf b" font-size="92.50" fill="#000">a. u.</text><text transform="translate(89.65,313.65) rotate(-90) scale(1.0323,1)" class="sf n" font-size="57.26" fill="#000">)</text></svg>
</body></html>
